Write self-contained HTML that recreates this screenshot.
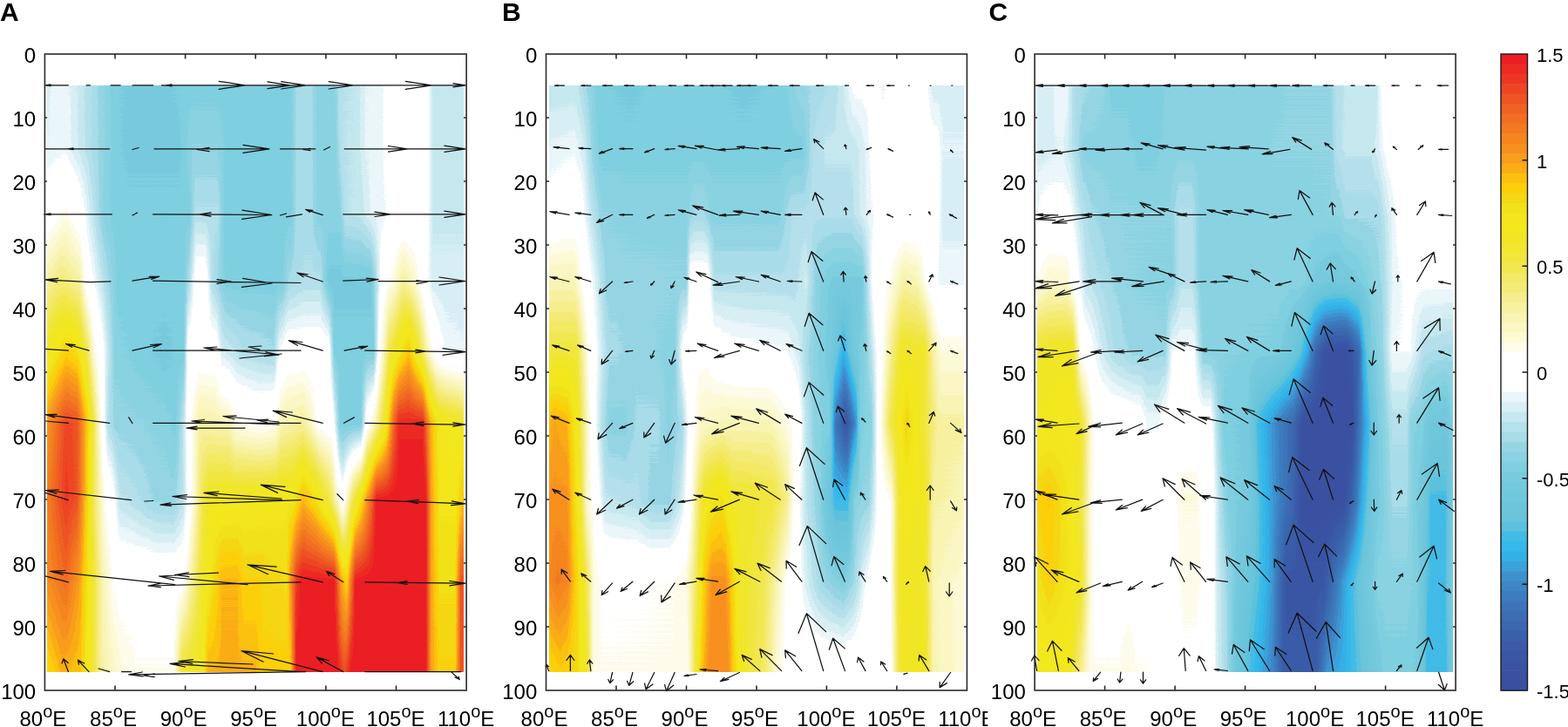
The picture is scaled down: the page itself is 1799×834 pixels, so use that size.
<!DOCTYPE html><html><head><meta charset="utf-8"><style>html,body{margin:0;padding:0;background:#fff;overflow:hidden;}svg{display:block;}text{font-family:"Liberation Sans",Arial,sans-serif;fill:#000;}</style></head><body>
<svg width="1799" height="834" viewBox="0 0 1799 834">
<defs>
<filter id="cm" filterUnits="userSpaceOnUse" x="0" y="0" width="1799" height="834" color-interpolation-filters="sRGB">
<feComponentTransfer><feFuncR type="discrete" tableValues="0.224 0.224 0.227 0.227 0.231 0.231 0.235 0.235 0.239 0.239 0.243 0.243 0.235 0.200 0.204 0.259 0.361 0.412 0.424 0.439 0.451 0.467 0.498 0.541 0.588 0.659 0.710 0.776 0.847 0.918 1.000 1.000 1.000 1.000 0.996 0.992 0.984 0.976 0.969 0.965 0.957 0.953 0.949 0.949 0.949 0.949 0.953 0.953 0.949 0.961 0.992 0.992 0.984 0.976 0.969 0.961 0.953 0.949 0.941 0.937 0.933 0.929 0.929 0.925"/><feFuncG type="discrete" tableValues="0.310 0.318 0.329 0.341 0.357 0.376 0.400 0.427 0.455 0.486 0.525 0.576 0.635 0.694 0.725 0.737 0.757 0.773 0.776 0.784 0.788 0.796 0.812 0.824 0.839 0.863 0.882 0.910 0.937 0.965 1.000 1.000 1.000 1.000 0.988 0.980 0.969 0.957 0.945 0.933 0.922 0.914 0.906 0.902 0.902 0.902 0.906 0.902 0.890 0.843 0.812 0.753 0.678 0.616 0.565 0.522 0.478 0.431 0.384 0.329 0.275 0.216 0.165 0.118"/><feFuncB type="discrete" tableValues="0.627 0.631 0.639 0.647 0.655 0.667 0.682 0.702 0.722 0.745 0.776 0.812 0.855 0.902 0.918 0.902 0.863 0.855 0.859 0.863 0.863 0.867 0.878 0.886 0.894 0.910 0.922 0.941 0.961 0.980 1.000 1.000 1.000 1.000 0.918 0.839 0.773 0.702 0.627 0.549 0.463 0.392 0.314 0.243 0.184 0.141 0.118 0.102 0.094 0.071 0.039 0.059 0.086 0.110 0.118 0.122 0.129 0.133 0.137 0.141 0.141 0.141 0.141 0.141"/></feComponentTransfer></filter>
<linearGradient id="vf" x1="0" y1="0" x2="0" y2="1"><stop offset="0" stop-color="#000"/><stop offset="1" stop-color="#fff"/></linearGradient>
<mask id="mf" maskContentUnits="objectBoundingBox"><rect width="1" height="1" fill="url(#vf)"/></mask>
<linearGradient id="gA0" gradientUnits="userSpaceOnUse" x1="51.4" y1="0" x2="535.1" y2="0">
<stop offset="0.0000" stop-color="#717171"/>
<stop offset="0.0267" stop-color="#777777"/>
<stop offset="0.0600" stop-color="#747474"/>
<stop offset="0.0900" stop-color="#6d6d6d"/>
<stop offset="0.1333" stop-color="#626262"/>
<stop offset="0.1633" stop-color="#5a5a5a"/>
<stop offset="0.2000" stop-color="#565656"/>
<stop offset="0.2833" stop-color="#565656"/>
<stop offset="0.3333" stop-color="#5a5a5a"/>
<stop offset="0.5000" stop-color="#5a5a5a"/>
<stop offset="0.5833" stop-color="#5a5a5a"/>
<stop offset="0.5967" stop-color="#656565"/>
<stop offset="0.6333" stop-color="#656565"/>
<stop offset="0.6467" stop-color="#5e5e5e"/>
<stop offset="0.6867" stop-color="#5e5e5e"/>
<stop offset="0.7000" stop-color="#6b6b6b"/>
<stop offset="0.7400" stop-color="#6d6d6d"/>
<stop offset="0.7600" stop-color="#747474"/>
<stop offset="0.8000" stop-color="#777777"/>
<stop offset="0.8133" stop-color="#7c7c7c"/>
<stop offset="0.9067" stop-color="#7c7c7c"/>
<stop offset="0.9200" stop-color="#6f6f6f"/>
<stop offset="1.0000" stop-color="#6f6f6f"/>
</linearGradient>
<linearGradient id="gA1" gradientUnits="userSpaceOnUse" x1="51.4" y1="0" x2="535.1" y2="0">
<stop offset="0.0000" stop-color="#747474"/>
<stop offset="0.0500" stop-color="#777777"/>
<stop offset="0.0900" stop-color="#6d6d6d"/>
<stop offset="0.1333" stop-color="#626262"/>
<stop offset="0.1633" stop-color="#5a5a5a"/>
<stop offset="0.2000" stop-color="#565656"/>
<stop offset="0.3167" stop-color="#565656"/>
<stop offset="0.3500" stop-color="#606060"/>
<stop offset="0.4067" stop-color="#606060"/>
<stop offset="0.4333" stop-color="#5a5a5a"/>
<stop offset="0.5833" stop-color="#5a5a5a"/>
<stop offset="0.5967" stop-color="#656565"/>
<stop offset="0.6333" stop-color="#656565"/>
<stop offset="0.6467" stop-color="#5e5e5e"/>
<stop offset="0.6900" stop-color="#5e5e5e"/>
<stop offset="0.7033" stop-color="#6b6b6b"/>
<stop offset="0.7400" stop-color="#6d6d6d"/>
<stop offset="0.7600" stop-color="#747474"/>
<stop offset="0.8000" stop-color="#777777"/>
<stop offset="0.8133" stop-color="#7c7c7c"/>
<stop offset="0.9067" stop-color="#7c7c7c"/>
<stop offset="0.9200" stop-color="#6f6f6f"/>
<stop offset="1.0000" stop-color="#6f6f6f"/>
</linearGradient>
<linearGradient id="gA2" gradientUnits="userSpaceOnUse" x1="51.4" y1="0" x2="535.1" y2="0">
<stop offset="0.0000" stop-color="#7e7e7e"/>
<stop offset="0.0500" stop-color="#8a8a8a"/>
<stop offset="0.0833" stop-color="#808080"/>
<stop offset="0.1067" stop-color="#717171"/>
<stop offset="0.1400" stop-color="#5e5e5e"/>
<stop offset="0.1667" stop-color="#5a5a5a"/>
<stop offset="0.3433" stop-color="#5a5a5a"/>
<stop offset="0.3567" stop-color="#696969"/>
<stop offset="0.4100" stop-color="#696969"/>
<stop offset="0.4267" stop-color="#5a5a5a"/>
<stop offset="0.5833" stop-color="#5a5a5a"/>
<stop offset="0.5967" stop-color="#656565"/>
<stop offset="0.6333" stop-color="#656565"/>
<stop offset="0.6467" stop-color="#5e5e5e"/>
<stop offset="0.7000" stop-color="#5e5e5e"/>
<stop offset="0.7133" stop-color="#6b6b6b"/>
<stop offset="0.7500" stop-color="#6d6d6d"/>
<stop offset="0.7733" stop-color="#747474"/>
<stop offset="0.8067" stop-color="#777777"/>
<stop offset="0.8233" stop-color="#7c7c7c"/>
<stop offset="0.9067" stop-color="#7c7c7c"/>
<stop offset="0.9200" stop-color="#6f6f6f"/>
<stop offset="1.0000" stop-color="#6f6f6f"/>
</linearGradient>
<linearGradient id="gA3" gradientUnits="userSpaceOnUse" x1="51.4" y1="0" x2="535.1" y2="0">
<stop offset="0.0000" stop-color="#999999"/>
<stop offset="0.0400" stop-color="#a2a2a2"/>
<stop offset="0.0833" stop-color="#999999"/>
<stop offset="0.1000" stop-color="#808080"/>
<stop offset="0.1167" stop-color="#787878"/>
<stop offset="0.1500" stop-color="#656565"/>
<stop offset="0.1733" stop-color="#5a5a5a"/>
<stop offset="0.3300" stop-color="#5a5a5a"/>
<stop offset="0.3433" stop-color="#696969"/>
<stop offset="0.3600" stop-color="#818181"/>
<stop offset="0.3800" stop-color="#818181"/>
<stop offset="0.3967" stop-color="#696969"/>
<stop offset="0.4300" stop-color="#5a5a5a"/>
<stop offset="0.5633" stop-color="#5a5a5a"/>
<stop offset="0.5800" stop-color="#656565"/>
<stop offset="0.6167" stop-color="#696969"/>
<stop offset="0.6533" stop-color="#696969"/>
<stop offset="0.6733" stop-color="#565656"/>
<stop offset="0.7733" stop-color="#565656"/>
<stop offset="0.7867" stop-color="#696969"/>
<stop offset="0.8000" stop-color="#808080"/>
<stop offset="0.8267" stop-color="#8c8c8c"/>
<stop offset="0.8500" stop-color="#9b9b9b"/>
<stop offset="0.8767" stop-color="#909090"/>
<stop offset="0.9000" stop-color="#7e7e7e"/>
<stop offset="0.9200" stop-color="#717171"/>
<stop offset="1.0000" stop-color="#717171"/>
</linearGradient>
<linearGradient id="gA4" gradientUnits="userSpaceOnUse" x1="51.4" y1="0" x2="535.1" y2="0">
<stop offset="0.0000" stop-color="#b3b3b3"/>
<stop offset="0.0500" stop-color="#c8c8c8"/>
<stop offset="0.0767" stop-color="#c3c3c3"/>
<stop offset="0.1000" stop-color="#aaaaaa"/>
<stop offset="0.1167" stop-color="#8c8c8c"/>
<stop offset="0.1333" stop-color="#808080"/>
<stop offset="0.1467" stop-color="#717171"/>
<stop offset="0.1667" stop-color="#5e5e5e"/>
<stop offset="0.2167" stop-color="#5a5a5a"/>
<stop offset="0.2833" stop-color="#565656"/>
<stop offset="0.3300" stop-color="#5a5a5a"/>
<stop offset="0.3400" stop-color="#808080"/>
<stop offset="0.4067" stop-color="#808080"/>
<stop offset="0.4200" stop-color="#717171"/>
<stop offset="0.4667" stop-color="#696969"/>
<stop offset="0.5433" stop-color="#656565"/>
<stop offset="0.5567" stop-color="#787878"/>
<stop offset="0.5733" stop-color="#808080"/>
<stop offset="0.6733" stop-color="#808080"/>
<stop offset="0.6867" stop-color="#5a5a5a"/>
<stop offset="0.7800" stop-color="#5a5a5a"/>
<stop offset="0.7933" stop-color="#808080"/>
<stop offset="0.8167" stop-color="#aaaaaa"/>
<stop offset="0.8433" stop-color="#bfbfbf"/>
<stop offset="0.8633" stop-color="#cccccc"/>
<stop offset="0.8867" stop-color="#b3b3b3"/>
<stop offset="0.9067" stop-color="#959595"/>
<stop offset="0.9267" stop-color="#808080"/>
<stop offset="0.9500" stop-color="#777777"/>
<stop offset="1.0000" stop-color="#747474"/>
</linearGradient>
<linearGradient id="gA5" gradientUnits="userSpaceOnUse" x1="51.4" y1="0" x2="535.1" y2="0">
<stop offset="0.0000" stop-color="#d4d4d4"/>
<stop offset="0.0500" stop-color="#f2f2f2"/>
<stop offset="0.0767" stop-color="#eeeeee"/>
<stop offset="0.1000" stop-color="#cccccc"/>
<stop offset="0.1167" stop-color="#aaaaaa"/>
<stop offset="0.1333" stop-color="#888888"/>
<stop offset="0.1500" stop-color="#696969"/>
<stop offset="0.1667" stop-color="#626262"/>
<stop offset="0.2833" stop-color="#5e5e5e"/>
<stop offset="0.3100" stop-color="#5a5a5a"/>
<stop offset="0.3267" stop-color="#696969"/>
<stop offset="0.3400" stop-color="#808080"/>
<stop offset="0.3667" stop-color="#999999"/>
<stop offset="0.4367" stop-color="#959595"/>
<stop offset="0.4533" stop-color="#8a8a8a"/>
<stop offset="0.5067" stop-color="#858585"/>
<stop offset="0.5467" stop-color="#888888"/>
<stop offset="0.5600" stop-color="#959595"/>
<stop offset="0.6133" stop-color="#9b9b9b"/>
<stop offset="0.6333" stop-color="#909090"/>
<stop offset="0.6500" stop-color="#848484"/>
<stop offset="0.6833" stop-color="#808080"/>
<stop offset="0.7000" stop-color="#5a5a5a"/>
<stop offset="0.7500" stop-color="#5a5a5a"/>
<stop offset="0.7633" stop-color="#808080"/>
<stop offset="0.7867" stop-color="#999999"/>
<stop offset="0.8100" stop-color="#bbbbbb"/>
<stop offset="0.8267" stop-color="#e6e6e6"/>
<stop offset="0.8400" stop-color="#fbfbfb"/>
<stop offset="0.8967" stop-color="#fbfbfb"/>
<stop offset="0.9133" stop-color="#d4d4d4"/>
<stop offset="0.9333" stop-color="#bfbfbf"/>
<stop offset="1.0000" stop-color="#b3b3b3"/>
</linearGradient>
<linearGradient id="gA6" gradientUnits="userSpaceOnUse" x1="51.4" y1="0" x2="535.1" y2="0">
<stop offset="0.0000" stop-color="#dddddd"/>
<stop offset="0.0500" stop-color="#f5f5f5"/>
<stop offset="0.0767" stop-color="#eeeeee"/>
<stop offset="0.1000" stop-color="#c8c8c8"/>
<stop offset="0.1200" stop-color="#a2a2a2"/>
<stop offset="0.1433" stop-color="#888888"/>
<stop offset="0.1600" stop-color="#808080"/>
<stop offset="0.1767" stop-color="#6d6d6d"/>
<stop offset="0.2167" stop-color="#696969"/>
<stop offset="0.2600" stop-color="#636363"/>
<stop offset="0.3067" stop-color="#626262"/>
<stop offset="0.3300" stop-color="#6d6d6d"/>
<stop offset="0.3433" stop-color="#808080"/>
<stop offset="0.3733" stop-color="#aaaaaa"/>
<stop offset="0.3900" stop-color="#b7b7b7"/>
<stop offset="0.5900" stop-color="#bfbfbf"/>
<stop offset="0.6133" stop-color="#d0d0d0"/>
<stop offset="0.6433" stop-color="#c3c3c3"/>
<stop offset="0.6767" stop-color="#aaaaaa"/>
<stop offset="0.7067" stop-color="#808080"/>
<stop offset="0.7300" stop-color="#aaaaaa"/>
<stop offset="0.7533" stop-color="#c8c8c8"/>
<stop offset="0.7733" stop-color="#e6e6e6"/>
<stop offset="0.7867" stop-color="#ffffff"/>
<stop offset="0.9033" stop-color="#ffffff"/>
<stop offset="0.9167" stop-color="#d4d4d4"/>
<stop offset="0.9367" stop-color="#bfbfbf"/>
<stop offset="0.9767" stop-color="#bfbfbf"/>
<stop offset="1.0000" stop-color="#d4d4d4"/>
</linearGradient>
<linearGradient id="gA7" gradientUnits="userSpaceOnUse" x1="51.4" y1="0" x2="535.1" y2="0">
<stop offset="0.0000" stop-color="#d9d9d9"/>
<stop offset="0.0500" stop-color="#e6e6e6"/>
<stop offset="0.0833" stop-color="#d4d4d4"/>
<stop offset="0.1067" stop-color="#bbbbbb"/>
<stop offset="0.1333" stop-color="#999999"/>
<stop offset="0.1600" stop-color="#888888"/>
<stop offset="0.1767" stop-color="#848484"/>
<stop offset="0.3267" stop-color="#848484"/>
<stop offset="0.3467" stop-color="#999999"/>
<stop offset="0.3733" stop-color="#b3b3b3"/>
<stop offset="0.4067" stop-color="#c8c8c8"/>
<stop offset="0.4200" stop-color="#d0d0d0"/>
<stop offset="0.4567" stop-color="#d0d0d0"/>
<stop offset="0.4733" stop-color="#c8c8c8"/>
<stop offset="0.5067" stop-color="#c8c8c8"/>
<stop offset="0.5733" stop-color="#c3c3c3"/>
<stop offset="0.5967" stop-color="#f6f6f6"/>
<stop offset="0.6100" stop-color="#ffffff"/>
<stop offset="0.6867" stop-color="#ffffff"/>
<stop offset="0.7033" stop-color="#d4d4d4"/>
<stop offset="0.7167" stop-color="#c8c8c8"/>
<stop offset="0.7367" stop-color="#ffffff"/>
<stop offset="0.9033" stop-color="#ffffff"/>
<stop offset="0.9167" stop-color="#d4d4d4"/>
<stop offset="0.9367" stop-color="#c3c3c3"/>
<stop offset="0.9733" stop-color="#c3c3c3"/>
<stop offset="0.9867" stop-color="#eeeeee"/>
<stop offset="1.0000" stop-color="#eeeeee"/>
</linearGradient>
<linearGradient id="gA8" gradientUnits="userSpaceOnUse" x1="51.4" y1="0" x2="535.1" y2="0">
<stop offset="0.0000" stop-color="#c3c3c3"/>
<stop offset="0.0400" stop-color="#d0d0d0"/>
<stop offset="0.0833" stop-color="#cccccc"/>
<stop offset="0.1100" stop-color="#b3b3b3"/>
<stop offset="0.1333" stop-color="#999999"/>
<stop offset="0.1833" stop-color="#8c8c8c"/>
<stop offset="0.2167" stop-color="#888888"/>
<stop offset="0.3067" stop-color="#888888"/>
<stop offset="0.3267" stop-color="#b3b3b3"/>
<stop offset="0.3733" stop-color="#b7b7b7"/>
<stop offset="0.3867" stop-color="#d0d0d0"/>
<stop offset="0.5000" stop-color="#d0d0d0"/>
<stop offset="0.5167" stop-color="#c8c8c8"/>
<stop offset="0.5833" stop-color="#cacaca"/>
<stop offset="0.5967" stop-color="#ffffff"/>
<stop offset="0.6933" stop-color="#ffffff"/>
<stop offset="0.7100" stop-color="#eeeeee"/>
<stop offset="0.7267" stop-color="#ffffff"/>
<stop offset="0.9033" stop-color="#ffffff"/>
<stop offset="0.9167" stop-color="#d4d4d4"/>
<stop offset="0.9367" stop-color="#c8c8c8"/>
<stop offset="0.9733" stop-color="#c8c8c8"/>
<stop offset="0.9867" stop-color="#eeeeee"/>
<stop offset="1.0000" stop-color="#eeeeee"/>
</linearGradient>
<linearGradient id="gB0" gradientUnits="userSpaceOnUse" x1="626.5" y1="0" x2="1109.4" y2="0">
<stop offset="0.0000" stop-color="#6d6d6d"/>
<stop offset="0.0733" stop-color="#6d6d6d"/>
<stop offset="0.1000" stop-color="#626262"/>
<stop offset="0.1200" stop-color="#5a5a5a"/>
<stop offset="0.2000" stop-color="#565656"/>
<stop offset="0.2667" stop-color="#5a5a5a"/>
<stop offset="0.4000" stop-color="#5a5a5a"/>
<stop offset="0.4667" stop-color="#565656"/>
<stop offset="0.5667" stop-color="#5a5a5a"/>
<stop offset="0.6000" stop-color="#626262"/>
<stop offset="0.6833" stop-color="#696969"/>
<stop offset="0.7100" stop-color="#717171"/>
<stop offset="0.7300" stop-color="#7a7a7a"/>
<stop offset="0.7833" stop-color="#7a7a7a"/>
<stop offset="0.8000" stop-color="#777777"/>
<stop offset="0.8333" stop-color="#7c7c7c"/>
<stop offset="0.9000" stop-color="#7c7c7c"/>
<stop offset="0.9200" stop-color="#717171"/>
<stop offset="1.0000" stop-color="#717171"/>
</linearGradient>
<linearGradient id="gB1" gradientUnits="userSpaceOnUse" x1="626.5" y1="0" x2="1109.4" y2="0">
<stop offset="0.0000" stop-color="#747474"/>
<stop offset="0.0667" stop-color="#777777"/>
<stop offset="0.0900" stop-color="#717171"/>
<stop offset="0.1100" stop-color="#626262"/>
<stop offset="0.1267" stop-color="#5a5a5a"/>
<stop offset="0.6100" stop-color="#5a5a5a"/>
<stop offset="0.6333" stop-color="#686868"/>
<stop offset="0.6667" stop-color="#6d6d6d"/>
<stop offset="0.7333" stop-color="#6d6d6d"/>
<stop offset="0.7600" stop-color="#747474"/>
<stop offset="0.7767" stop-color="#7c7c7c"/>
<stop offset="0.9300" stop-color="#7c7c7c"/>
<stop offset="0.9433" stop-color="#747474"/>
<stop offset="1.0000" stop-color="#747474"/>
</linearGradient>
<linearGradient id="gB2" gradientUnits="userSpaceOnUse" x1="626.5" y1="0" x2="1109.4" y2="0">
<stop offset="0.0000" stop-color="#7c7c7c"/>
<stop offset="0.0433" stop-color="#808080"/>
<stop offset="0.0800" stop-color="#808080"/>
<stop offset="0.1067" stop-color="#6d6d6d"/>
<stop offset="0.1333" stop-color="#606060"/>
<stop offset="0.2000" stop-color="#5e5e5e"/>
<stop offset="0.3333" stop-color="#5e5e5e"/>
<stop offset="0.3533" stop-color="#656565"/>
<stop offset="0.3733" stop-color="#656565"/>
<stop offset="0.3933" stop-color="#5e5e5e"/>
<stop offset="0.5533" stop-color="#5e5e5e"/>
<stop offset="0.5833" stop-color="#686868"/>
<stop offset="0.6333" stop-color="#696969"/>
<stop offset="0.7233" stop-color="#696969"/>
<stop offset="0.7500" stop-color="#717171"/>
<stop offset="0.7967" stop-color="#7c7c7c"/>
<stop offset="0.9300" stop-color="#7c7c7c"/>
<stop offset="0.9433" stop-color="#717171"/>
<stop offset="1.0000" stop-color="#717171"/>
</linearGradient>
<linearGradient id="gB3" gradientUnits="userSpaceOnUse" x1="626.5" y1="0" x2="1109.4" y2="0">
<stop offset="0.0000" stop-color="#959595"/>
<stop offset="0.0667" stop-color="#959595"/>
<stop offset="0.0900" stop-color="#848484"/>
<stop offset="0.1167" stop-color="#747474"/>
<stop offset="0.1433" stop-color="#626262"/>
<stop offset="0.3333" stop-color="#606060"/>
<stop offset="0.3433" stop-color="#808080"/>
<stop offset="0.3833" stop-color="#808080"/>
<stop offset="0.4000" stop-color="#696969"/>
<stop offset="0.5900" stop-color="#696969"/>
<stop offset="0.6167" stop-color="#717171"/>
<stop offset="0.6433" stop-color="#5e5e5e"/>
<stop offset="0.6833" stop-color="#565656"/>
<stop offset="0.7500" stop-color="#565656"/>
<stop offset="0.7633" stop-color="#696969"/>
<stop offset="0.7800" stop-color="#808080"/>
<stop offset="0.8167" stop-color="#888888"/>
<stop offset="0.8500" stop-color="#999999"/>
<stop offset="0.8833" stop-color="#959595"/>
<stop offset="0.9067" stop-color="#848484"/>
<stop offset="0.9333" stop-color="#777777"/>
<stop offset="1.0000" stop-color="#777777"/>
</linearGradient>
<linearGradient id="gB4" gradientUnits="userSpaceOnUse" x1="626.5" y1="0" x2="1109.4" y2="0">
<stop offset="0.0000" stop-color="#aeaeae"/>
<stop offset="0.0733" stop-color="#aeaeae"/>
<stop offset="0.1000" stop-color="#888888"/>
<stop offset="0.1267" stop-color="#747474"/>
<stop offset="0.1500" stop-color="#656565"/>
<stop offset="0.1667" stop-color="#656565"/>
<stop offset="0.2000" stop-color="#626262"/>
<stop offset="0.3067" stop-color="#5e5e5e"/>
<stop offset="0.3267" stop-color="#808080"/>
<stop offset="0.3533" stop-color="#858585"/>
<stop offset="0.3833" stop-color="#858585"/>
<stop offset="0.4000" stop-color="#808080"/>
<stop offset="0.4400" stop-color="#7c7c7c"/>
<stop offset="0.5733" stop-color="#787878"/>
<stop offset="0.6000" stop-color="#717171"/>
<stop offset="0.6200" stop-color="#656565"/>
<stop offset="0.6400" stop-color="#5e5e5e"/>
<stop offset="0.6800" stop-color="#535353"/>
<stop offset="0.7067" stop-color="#373737"/>
<stop offset="0.7333" stop-color="#535353"/>
<stop offset="0.7600" stop-color="#5e5e5e"/>
<stop offset="0.7933" stop-color="#808080"/>
<stop offset="0.8200" stop-color="#9d9d9d"/>
<stop offset="0.8433" stop-color="#b4b4b4"/>
<stop offset="0.9000" stop-color="#b3b3b3"/>
<stop offset="0.9200" stop-color="#999999"/>
<stop offset="0.9400" stop-color="#8c8c8c"/>
<stop offset="1.0000" stop-color="#8c8c8c"/>
</linearGradient>
<linearGradient id="gB5" gradientUnits="userSpaceOnUse" x1="626.5" y1="0" x2="1109.4" y2="0">
<stop offset="0.0000" stop-color="#cccccc"/>
<stop offset="0.0200" stop-color="#d4d4d4"/>
<stop offset="0.0500" stop-color="#d0d0d0"/>
<stop offset="0.0733" stop-color="#bbbbbb"/>
<stop offset="0.0933" stop-color="#999999"/>
<stop offset="0.1100" stop-color="#808080"/>
<stop offset="0.1333" stop-color="#696969"/>
<stop offset="0.1500" stop-color="#5e5e5e"/>
<stop offset="0.1867" stop-color="#5e5e5e"/>
<stop offset="0.2167" stop-color="#656565"/>
<stop offset="0.2667" stop-color="#656565"/>
<stop offset="0.2900" stop-color="#5e5e5e"/>
<stop offset="0.3233" stop-color="#656565"/>
<stop offset="0.3433" stop-color="#808080"/>
<stop offset="0.3667" stop-color="#909090"/>
<stop offset="0.4167" stop-color="#959595"/>
<stop offset="0.5333" stop-color="#959595"/>
<stop offset="0.5833" stop-color="#888888"/>
<stop offset="0.6000" stop-color="#808080"/>
<stop offset="0.6167" stop-color="#6d6d6d"/>
<stop offset="0.6400" stop-color="#5e5e5e"/>
<stop offset="0.6733" stop-color="#5a5a5a"/>
<stop offset="0.6867" stop-color="#252525"/>
<stop offset="0.7133" stop-color="#0e0e0e"/>
<stop offset="0.7367" stop-color="#2e2e2e"/>
<stop offset="0.7467" stop-color="#5a5a5a"/>
<stop offset="0.7733" stop-color="#5e5e5e"/>
<stop offset="0.7900" stop-color="#808080"/>
<stop offset="0.8167" stop-color="#aaaaaa"/>
<stop offset="0.8400" stop-color="#bbbbbb"/>
<stop offset="0.8567" stop-color="#c8c8c8"/>
<stop offset="0.8833" stop-color="#b7b7b7"/>
<stop offset="0.9067" stop-color="#aaaaaa"/>
<stop offset="0.9333" stop-color="#999999"/>
<stop offset="1.0000" stop-color="#999999"/>
</linearGradient>
<linearGradient id="gB6" gradientUnits="userSpaceOnUse" x1="626.5" y1="0" x2="1109.4" y2="0">
<stop offset="0.0000" stop-color="#d9d9d9"/>
<stop offset="0.0500" stop-color="#d9d9d9"/>
<stop offset="0.0767" stop-color="#bbbbbb"/>
<stop offset="0.0967" stop-color="#909090"/>
<stop offset="0.1200" stop-color="#808080"/>
<stop offset="0.1400" stop-color="#6d6d6d"/>
<stop offset="0.2167" stop-color="#696969"/>
<stop offset="0.2500" stop-color="#626262"/>
<stop offset="0.2933" stop-color="#626262"/>
<stop offset="0.3167" stop-color="#6d6d6d"/>
<stop offset="0.3400" stop-color="#808080"/>
<stop offset="0.3600" stop-color="#a2a2a2"/>
<stop offset="0.3800" stop-color="#bbbbbb"/>
<stop offset="0.4167" stop-color="#c3c3c3"/>
<stop offset="0.4433" stop-color="#b3b3b3"/>
<stop offset="0.4667" stop-color="#b3b3b3"/>
<stop offset="0.5400" stop-color="#aeaeae"/>
<stop offset="0.5733" stop-color="#9d9d9d"/>
<stop offset="0.5933" stop-color="#808080"/>
<stop offset="0.6167" stop-color="#6d6d6d"/>
<stop offset="0.6500" stop-color="#5e5e5e"/>
<stop offset="0.6867" stop-color="#3c3c3c"/>
<stop offset="0.7167" stop-color="#3c3c3c"/>
<stop offset="0.7333" stop-color="#5e5e5e"/>
<stop offset="0.7667" stop-color="#626262"/>
<stop offset="0.7933" stop-color="#808080"/>
<stop offset="0.8200" stop-color="#888888"/>
<stop offset="0.8367" stop-color="#aeaeae"/>
<stop offset="0.8500" stop-color="#b9b9b9"/>
<stop offset="0.9000" stop-color="#b7b7b7"/>
<stop offset="0.9200" stop-color="#999999"/>
<stop offset="1.0000" stop-color="#959595"/>
</linearGradient>
<linearGradient id="gB7" gradientUnits="userSpaceOnUse" x1="626.5" y1="0" x2="1109.4" y2="0">
<stop offset="0.0000" stop-color="#d9d9d9"/>
<stop offset="0.0267" stop-color="#e1e1e1"/>
<stop offset="0.0500" stop-color="#dddddd"/>
<stop offset="0.0767" stop-color="#c3c3c3"/>
<stop offset="0.0967" stop-color="#aaaaaa"/>
<stop offset="0.1133" stop-color="#8c8c8c"/>
<stop offset="0.1367" stop-color="#868686"/>
<stop offset="0.3000" stop-color="#888888"/>
<stop offset="0.3333" stop-color="#8c8c8c"/>
<stop offset="0.3600" stop-color="#aaaaaa"/>
<stop offset="0.3733" stop-color="#c8c8c8"/>
<stop offset="0.3933" stop-color="#d9d9d9"/>
<stop offset="0.4267" stop-color="#d9d9d9"/>
<stop offset="0.4433" stop-color="#c8c8c8"/>
<stop offset="0.4600" stop-color="#b3b3b3"/>
<stop offset="0.5167" stop-color="#aaaaaa"/>
<stop offset="0.5500" stop-color="#959595"/>
<stop offset="0.5733" stop-color="#848484"/>
<stop offset="0.5933" stop-color="#808080"/>
<stop offset="0.6133" stop-color="#747474"/>
<stop offset="0.6500" stop-color="#656565"/>
<stop offset="0.6833" stop-color="#5e5e5e"/>
<stop offset="0.7067" stop-color="#5a5a5a"/>
<stop offset="0.7333" stop-color="#656565"/>
<stop offset="0.7533" stop-color="#747474"/>
<stop offset="0.7733" stop-color="#808080"/>
<stop offset="0.8167" stop-color="#848484"/>
<stop offset="0.8367" stop-color="#aeaeae"/>
<stop offset="0.8500" stop-color="#b7b7b7"/>
<stop offset="0.9000" stop-color="#b3b3b3"/>
<stop offset="0.9200" stop-color="#959595"/>
<stop offset="1.0000" stop-color="#8c8c8c"/>
</linearGradient>
<linearGradient id="gB8" gradientUnits="userSpaceOnUse" x1="626.5" y1="0" x2="1109.4" y2="0">
<stop offset="0.0000" stop-color="#c3c3c3"/>
<stop offset="0.0333" stop-color="#cacaca"/>
<stop offset="0.0767" stop-color="#c3c3c3"/>
<stop offset="0.1000" stop-color="#aeaeae"/>
<stop offset="0.1133" stop-color="#888888"/>
<stop offset="0.3367" stop-color="#888888"/>
<stop offset="0.3533" stop-color="#aaaaaa"/>
<stop offset="0.3700" stop-color="#cccccc"/>
<stop offset="0.3867" stop-color="#d9d9d9"/>
<stop offset="0.4333" stop-color="#d9d9d9"/>
<stop offset="0.4500" stop-color="#c3c3c3"/>
<stop offset="0.4667" stop-color="#b3b3b3"/>
<stop offset="0.5167" stop-color="#a6a6a6"/>
<stop offset="0.5500" stop-color="#8c8c8c"/>
<stop offset="0.5733" stop-color="#848484"/>
<stop offset="0.8200" stop-color="#868686"/>
<stop offset="0.8367" stop-color="#aaaaaa"/>
<stop offset="0.8533" stop-color="#b7b7b7"/>
<stop offset="0.9000" stop-color="#b7b7b7"/>
<stop offset="0.9200" stop-color="#959595"/>
<stop offset="1.0000" stop-color="#8c8c8c"/>
</linearGradient>
<linearGradient id="gC0" gradientUnits="userSpaceOnUse" x1="1187.1" y1="0" x2="1670.1" y2="0">
<stop offset="0.0000" stop-color="#717171"/>
<stop offset="0.0400" stop-color="#717171"/>
<stop offset="0.0500" stop-color="#777777"/>
<stop offset="0.0767" stop-color="#777777"/>
<stop offset="0.0933" stop-color="#686868"/>
<stop offset="0.1667" stop-color="#606060"/>
<stop offset="0.1833" stop-color="#5a5a5a"/>
<stop offset="0.3000" stop-color="#5a5a5a"/>
<stop offset="0.3167" stop-color="#5e5e5e"/>
<stop offset="0.5667" stop-color="#5e5e5e"/>
<stop offset="0.6000" stop-color="#606060"/>
<stop offset="0.7000" stop-color="#606060"/>
<stop offset="0.7167" stop-color="#696969"/>
<stop offset="0.7400" stop-color="#6d6d6d"/>
<stop offset="0.8100" stop-color="#6d6d6d"/>
<stop offset="0.8267" stop-color="#7c7c7c"/>
<stop offset="1.0000" stop-color="#7c7c7c"/>
</linearGradient>
<linearGradient id="gC1" gradientUnits="userSpaceOnUse" x1="1187.1" y1="0" x2="1670.1" y2="0">
<stop offset="0.0000" stop-color="#717171"/>
<stop offset="0.0667" stop-color="#747474"/>
<stop offset="0.0933" stop-color="#696969"/>
<stop offset="0.1167" stop-color="#5e5e5e"/>
<stop offset="0.2167" stop-color="#5e5e5e"/>
<stop offset="0.2500" stop-color="#5a5a5a"/>
<stop offset="0.2833" stop-color="#5a5a5a"/>
<stop offset="0.3167" stop-color="#5e5e5e"/>
<stop offset="0.5500" stop-color="#5e5e5e"/>
<stop offset="0.5667" stop-color="#606060"/>
<stop offset="0.7033" stop-color="#606060"/>
<stop offset="0.7167" stop-color="#696969"/>
<stop offset="0.7400" stop-color="#6d6d6d"/>
<stop offset="0.8000" stop-color="#6d6d6d"/>
<stop offset="0.8200" stop-color="#747474"/>
<stop offset="0.8400" stop-color="#7c7c7c"/>
<stop offset="1.0000" stop-color="#7c7c7c"/>
</linearGradient>
<linearGradient id="gC2" gradientUnits="userSpaceOnUse" x1="1187.1" y1="0" x2="1670.1" y2="0">
<stop offset="0.0000" stop-color="#777777"/>
<stop offset="0.0267" stop-color="#7c7c7c"/>
<stop offset="0.0833" stop-color="#7c7c7c"/>
<stop offset="0.1067" stop-color="#6d6d6d"/>
<stop offset="0.1333" stop-color="#656565"/>
<stop offset="0.1833" stop-color="#606060"/>
<stop offset="0.3233" stop-color="#606060"/>
<stop offset="0.3433" stop-color="#696969"/>
<stop offset="0.3733" stop-color="#696969"/>
<stop offset="0.3933" stop-color="#5e5e5e"/>
<stop offset="0.6467" stop-color="#5e5e5e"/>
<stop offset="0.7233" stop-color="#606060"/>
<stop offset="0.7400" stop-color="#656565"/>
<stop offset="0.8167" stop-color="#656565"/>
<stop offset="0.8467" stop-color="#747474"/>
<stop offset="0.8667" stop-color="#7c7c7c"/>
<stop offset="1.0000" stop-color="#7c7c7c"/>
</linearGradient>
<linearGradient id="gC3" gradientUnits="userSpaceOnUse" x1="1187.1" y1="0" x2="1670.1" y2="0">
<stop offset="0.0000" stop-color="#888888"/>
<stop offset="0.0333" stop-color="#909090"/>
<stop offset="0.0767" stop-color="#8f8f8f"/>
<stop offset="0.0967" stop-color="#808080"/>
<stop offset="0.1200" stop-color="#6d6d6d"/>
<stop offset="0.1733" stop-color="#656565"/>
<stop offset="0.2167" stop-color="#606060"/>
<stop offset="0.3267" stop-color="#5e5e5e"/>
<stop offset="0.3467" stop-color="#6b6b6b"/>
<stop offset="0.3733" stop-color="#6b6b6b"/>
<stop offset="0.3933" stop-color="#5e5e5e"/>
<stop offset="0.6333" stop-color="#5e5e5e"/>
<stop offset="0.6667" stop-color="#565656"/>
<stop offset="0.7167" stop-color="#515151"/>
<stop offset="0.7667" stop-color="#565656"/>
<stop offset="0.8000" stop-color="#5e5e5e"/>
<stop offset="0.8267" stop-color="#656565"/>
<stop offset="0.8500" stop-color="#747474"/>
<stop offset="0.8833" stop-color="#7a7a7a"/>
<stop offset="1.0000" stop-color="#7a7a7a"/>
</linearGradient>
<linearGradient id="gC4" gradientUnits="userSpaceOnUse" x1="1187.1" y1="0" x2="1670.1" y2="0">
<stop offset="0.0000" stop-color="#b3b3b3"/>
<stop offset="0.0900" stop-color="#b7b7b7"/>
<stop offset="0.1100" stop-color="#848484"/>
<stop offset="0.1333" stop-color="#7c7c7c"/>
<stop offset="0.1567" stop-color="#717171"/>
<stop offset="0.1833" stop-color="#696969"/>
<stop offset="0.2333" stop-color="#626262"/>
<stop offset="0.3100" stop-color="#626262"/>
<stop offset="0.3267" stop-color="#787878"/>
<stop offset="0.3800" stop-color="#787878"/>
<stop offset="0.4000" stop-color="#5e5e5e"/>
<stop offset="0.5767" stop-color="#5a5a5a"/>
<stop offset="0.6000" stop-color="#535353"/>
<stop offset="0.6300" stop-color="#454545"/>
<stop offset="0.6500" stop-color="#323232"/>
<stop offset="0.6667" stop-color="#1c1c1c"/>
<stop offset="0.6900" stop-color="#090909"/>
<stop offset="0.7400" stop-color="#050505"/>
<stop offset="0.7700" stop-color="#1c1c1c"/>
<stop offset="0.7833" stop-color="#3c3c3c"/>
<stop offset="0.8000" stop-color="#565656"/>
<stop offset="0.8267" stop-color="#626262"/>
<stop offset="0.8500" stop-color="#787878"/>
<stop offset="0.8933" stop-color="#787878"/>
<stop offset="0.9233" stop-color="#696969"/>
<stop offset="1.0000" stop-color="#656565"/>
</linearGradient>
<linearGradient id="gC5" gradientUnits="userSpaceOnUse" x1="1187.1" y1="0" x2="1670.1" y2="0">
<stop offset="0.0000" stop-color="#b7b7b7"/>
<stop offset="0.0667" stop-color="#bbbbbb"/>
<stop offset="0.1067" stop-color="#b7b7b7"/>
<stop offset="0.1333" stop-color="#909090"/>
<stop offset="0.1467" stop-color="#848484"/>
<stop offset="0.2500" stop-color="#808080"/>
<stop offset="0.2667" stop-color="#777777"/>
<stop offset="0.2933" stop-color="#777777"/>
<stop offset="0.3100" stop-color="#808080"/>
<stop offset="0.4167" stop-color="#808080"/>
<stop offset="0.4333" stop-color="#696969"/>
<stop offset="0.4500" stop-color="#5a5a5a"/>
<stop offset="0.5067" stop-color="#565656"/>
<stop offset="0.5267" stop-color="#404040"/>
<stop offset="0.5767" stop-color="#292929"/>
<stop offset="0.6167" stop-color="#1a1a1a"/>
<stop offset="0.6400" stop-color="#050505"/>
<stop offset="0.7533" stop-color="#050505"/>
<stop offset="0.7733" stop-color="#252525"/>
<stop offset="0.7933" stop-color="#3c3c3c"/>
<stop offset="0.8133" stop-color="#565656"/>
<stop offset="0.8500" stop-color="#696969"/>
<stop offset="0.8833" stop-color="#696969"/>
<stop offset="0.8933" stop-color="#5e5e5e"/>
<stop offset="0.9200" stop-color="#5a5a5a"/>
<stop offset="0.9400" stop-color="#515151"/>
<stop offset="0.9767" stop-color="#4e4e4e"/>
<stop offset="0.9933" stop-color="#5a5a5a"/>
<stop offset="1.0000" stop-color="#5a5a5a"/>
</linearGradient>
<linearGradient id="gC6" gradientUnits="userSpaceOnUse" x1="1187.1" y1="0" x2="1670.1" y2="0">
<stop offset="0.0000" stop-color="#c8c8c8"/>
<stop offset="0.0333" stop-color="#cccccc"/>
<stop offset="0.0800" stop-color="#bfbfbf"/>
<stop offset="0.1100" stop-color="#aeaeae"/>
<stop offset="0.1333" stop-color="#8c8c8c"/>
<stop offset="0.1467" stop-color="#848484"/>
<stop offset="0.3267" stop-color="#848484"/>
<stop offset="0.3500" stop-color="#8c8c8c"/>
<stop offset="0.3833" stop-color="#8c8c8c"/>
<stop offset="0.4000" stop-color="#848484"/>
<stop offset="0.4167" stop-color="#848484"/>
<stop offset="0.4400" stop-color="#696969"/>
<stop offset="0.4600" stop-color="#5a5a5a"/>
<stop offset="0.5067" stop-color="#565656"/>
<stop offset="0.5333" stop-color="#404040"/>
<stop offset="0.5833" stop-color="#272727"/>
<stop offset="0.6133" stop-color="#1a1a1a"/>
<stop offset="0.6367" stop-color="#050505"/>
<stop offset="0.7333" stop-color="#050505"/>
<stop offset="0.7600" stop-color="#202020"/>
<stop offset="0.7833" stop-color="#3c3c3c"/>
<stop offset="0.8067" stop-color="#535353"/>
<stop offset="0.8267" stop-color="#5a5a5a"/>
<stop offset="0.8500" stop-color="#656565"/>
<stop offset="0.8833" stop-color="#656565"/>
<stop offset="0.9000" stop-color="#5a5a5a"/>
<stop offset="0.9233" stop-color="#535353"/>
<stop offset="0.9400" stop-color="#3e3e3e"/>
<stop offset="0.9767" stop-color="#3e3e3e"/>
<stop offset="0.9933" stop-color="#565656"/>
<stop offset="1.0000" stop-color="#5a5a5a"/>
</linearGradient>
<linearGradient id="gC7" gradientUnits="userSpaceOnUse" x1="1187.1" y1="0" x2="1670.1" y2="0">
<stop offset="0.0000" stop-color="#bfbfbf"/>
<stop offset="0.0333" stop-color="#c8c8c8"/>
<stop offset="0.0800" stop-color="#bfbfbf"/>
<stop offset="0.1100" stop-color="#b3b3b3"/>
<stop offset="0.1333" stop-color="#8c8c8c"/>
<stop offset="0.1467" stop-color="#848484"/>
<stop offset="0.3333" stop-color="#848484"/>
<stop offset="0.3533" stop-color="#8a8a8a"/>
<stop offset="0.3833" stop-color="#8a8a8a"/>
<stop offset="0.4100" stop-color="#848484"/>
<stop offset="0.4167" stop-color="#848484"/>
<stop offset="0.4333" stop-color="#717171"/>
<stop offset="0.4600" stop-color="#626262"/>
<stop offset="0.4833" stop-color="#535353"/>
<stop offset="0.5333" stop-color="#404040"/>
<stop offset="0.5667" stop-color="#2e2e2e"/>
<stop offset="0.5967" stop-color="#0e0e0e"/>
<stop offset="0.6867" stop-color="#0e0e0e"/>
<stop offset="0.7167" stop-color="#252525"/>
<stop offset="0.7500" stop-color="#3c3c3c"/>
<stop offset="0.7833" stop-color="#4e4e4e"/>
<stop offset="0.8167" stop-color="#5e5e5e"/>
<stop offset="0.8833" stop-color="#5e5e5e"/>
<stop offset="0.9100" stop-color="#5a5a5a"/>
<stop offset="0.9333" stop-color="#404040"/>
<stop offset="0.9733" stop-color="#3c3c3c"/>
<stop offset="0.9900" stop-color="#565656"/>
<stop offset="1.0000" stop-color="#5a5a5a"/>
</linearGradient>
<linearGradient id="gC8" gradientUnits="userSpaceOnUse" x1="1187.1" y1="0" x2="1670.1" y2="0">
<stop offset="0.0000" stop-color="#b7b7b7"/>
<stop offset="0.0833" stop-color="#b7b7b7"/>
<stop offset="0.1133" stop-color="#999999"/>
<stop offset="0.1333" stop-color="#888888"/>
<stop offset="0.2000" stop-color="#888888"/>
<stop offset="0.2233" stop-color="#8c8c8c"/>
<stop offset="0.2400" stop-color="#888888"/>
<stop offset="0.4167" stop-color="#848484"/>
<stop offset="0.4333" stop-color="#717171"/>
<stop offset="0.4567" stop-color="#656565"/>
<stop offset="0.4833" stop-color="#494949"/>
<stop offset="0.5333" stop-color="#373737"/>
<stop offset="0.5667" stop-color="#292929"/>
<stop offset="0.5933" stop-color="#121212"/>
<stop offset="0.6667" stop-color="#121212"/>
<stop offset="0.6933" stop-color="#2e2e2e"/>
<stop offset="0.7333" stop-color="#373737"/>
<stop offset="0.7667" stop-color="#404040"/>
<stop offset="0.8000" stop-color="#4e4e4e"/>
<stop offset="0.8333" stop-color="#5a5a5a"/>
<stop offset="0.8833" stop-color="#5a5a5a"/>
<stop offset="0.9100" stop-color="#565656"/>
<stop offset="0.9333" stop-color="#3c3c3c"/>
<stop offset="0.9767" stop-color="#3c3c3c"/>
<stop offset="0.9933" stop-color="#535353"/>
<stop offset="1.0000" stop-color="#565656"/>
</linearGradient>
</defs>
<path d="M51.4 135h5.5M535.1 135h-5.5M51.4 208h5.5M535.1 208h-5.5M51.4 281h5.5M535.1 281h-5.5M51.4 354h5.5M535.1 354h-5.5M51.4 427h5.5M535.1 427h-5.5M51.4 500h5.5M535.1 500h-5.5M51.4 573h5.5M535.1 573h-5.5M51.4 646h5.5M535.1 646h-5.5M51.4 719h5.5M535.1 719h-5.5M132 792v-5.5M132 62v5.5M212.6 792v-5.5M212.6 62v5.5M293.2 792v-5.5M293.2 62v5.5M373.9 792v-5.5M373.9 62v5.5M454.5 792v-5.5M454.5 62v5.5" stroke="#2a2a2a" stroke-width="1.6" fill="none"/>
<path d="M626.5 135h5.5M1109.4 135h-5.5M626.5 208h5.5M1109.4 208h-5.5M626.5 281h5.5M1109.4 281h-5.5M626.5 354h5.5M1109.4 354h-5.5M626.5 427h5.5M1109.4 427h-5.5M626.5 500h5.5M1109.4 500h-5.5M626.5 573h5.5M1109.4 573h-5.5M626.5 646h5.5M1109.4 646h-5.5M626.5 719h5.5M1109.4 719h-5.5M707 792v-5.5M707 62v5.5M787.5 792v-5.5M787.5 62v5.5M868 792v-5.5M868 62v5.5M948.4 792v-5.5M948.4 62v5.5M1028.9 792v-5.5M1028.9 62v5.5" stroke="#2a2a2a" stroke-width="1.6" fill="none"/>
<path d="M1187.1 135h5.5M1670.1 135h-5.5M1187.1 208h5.5M1670.1 208h-5.5M1187.1 281h5.5M1670.1 281h-5.5M1187.1 354h5.5M1670.1 354h-5.5M1187.1 427h5.5M1670.1 427h-5.5M1187.1 500h5.5M1670.1 500h-5.5M1187.1 573h5.5M1670.1 573h-5.5M1187.1 646h5.5M1670.1 646h-5.5M1187.1 719h5.5M1670.1 719h-5.5M1267.6 792v-5.5M1267.6 62v5.5M1348.1 792v-5.5M1348.1 62v5.5M1428.6 792v-5.5M1428.6 62v5.5M1509.1 792v-5.5M1509.1 62v5.5M1589.6 792v-5.5M1589.6 62v5.5" stroke="#2a2a2a" stroke-width="1.6" fill="none"/>
<g filter="url(#cm)">
<rect x="54" y="98" width="478" height="74" fill="url(#gA0)"/>
<rect x="54" y="98" width="478" height="74" fill="url(#gA1)" mask="url(#mf)"/>
<rect x="54" y="172" width="478" height="74" fill="url(#gA1)"/>
<rect x="54" y="172" width="478" height="74" fill="url(#gA2)" mask="url(#mf)"/>
<rect x="54" y="246" width="478" height="77" fill="url(#gA2)"/>
<rect x="54" y="246" width="478" height="77" fill="url(#gA3)" mask="url(#mf)"/>
<rect x="54" y="323" width="478" height="80" fill="url(#gA3)"/>
<rect x="54" y="323" width="478" height="80" fill="url(#gA4)" mask="url(#mf)"/>
<rect x="54" y="403" width="478" height="83" fill="url(#gA4)"/>
<rect x="54" y="403" width="478" height="83" fill="url(#gA5)" mask="url(#mf)"/>
<rect x="54" y="486" width="478" height="88" fill="url(#gA5)"/>
<rect x="54" y="486" width="478" height="88" fill="url(#gA6)" mask="url(#mf)"/>
<rect x="54" y="574" width="478" height="94" fill="url(#gA6)"/>
<rect x="54" y="574" width="478" height="94" fill="url(#gA7)" mask="url(#mf)"/>
<rect x="54" y="668" width="478" height="103" fill="url(#gA7)"/>
<rect x="54" y="668" width="478" height="103" fill="url(#gA8)" mask="url(#mf)"/>
</g>
<g filter="url(#cm)">
<rect x="630" y="98" width="476" height="74" fill="url(#gB0)"/>
<rect x="630" y="98" width="476" height="74" fill="url(#gB1)" mask="url(#mf)"/>
<rect x="630" y="172" width="476" height="74" fill="url(#gB1)"/>
<rect x="630" y="172" width="476" height="74" fill="url(#gB2)" mask="url(#mf)"/>
<rect x="630" y="246" width="476" height="77" fill="url(#gB2)"/>
<rect x="630" y="246" width="476" height="77" fill="url(#gB3)" mask="url(#mf)"/>
<rect x="630" y="323" width="476" height="80" fill="url(#gB3)"/>
<rect x="630" y="323" width="476" height="80" fill="url(#gB4)" mask="url(#mf)"/>
<rect x="630" y="403" width="476" height="83" fill="url(#gB4)"/>
<rect x="630" y="403" width="476" height="83" fill="url(#gB5)" mask="url(#mf)"/>
<rect x="630" y="486" width="476" height="88" fill="url(#gB5)"/>
<rect x="630" y="486" width="476" height="88" fill="url(#gB6)" mask="url(#mf)"/>
<rect x="630" y="574" width="476" height="94" fill="url(#gB6)"/>
<rect x="630" y="574" width="476" height="94" fill="url(#gB7)" mask="url(#mf)"/>
<rect x="630" y="668" width="476" height="103" fill="url(#gB7)"/>
<rect x="630" y="668" width="476" height="103" fill="url(#gB8)" mask="url(#mf)"/>
</g>
<g filter="url(#cm)">
<rect x="1190" y="98" width="477" height="74" fill="url(#gC0)"/>
<rect x="1190" y="98" width="477" height="74" fill="url(#gC1)" mask="url(#mf)"/>
<rect x="1190" y="172" width="477" height="74" fill="url(#gC1)"/>
<rect x="1190" y="172" width="477" height="74" fill="url(#gC2)" mask="url(#mf)"/>
<rect x="1190" y="246" width="477" height="77" fill="url(#gC2)"/>
<rect x="1190" y="246" width="477" height="77" fill="url(#gC3)" mask="url(#mf)"/>
<rect x="1190" y="323" width="477" height="80" fill="url(#gC3)"/>
<rect x="1190" y="323" width="477" height="80" fill="url(#gC4)" mask="url(#mf)"/>
<rect x="1190" y="403" width="477" height="83" fill="url(#gC4)"/>
<rect x="1190" y="403" width="477" height="83" fill="url(#gC5)" mask="url(#mf)"/>
<rect x="1190" y="486" width="477" height="88" fill="url(#gC5)"/>
<rect x="1190" y="486" width="477" height="88" fill="url(#gC6)" mask="url(#mf)"/>
<rect x="1190" y="574" width="477" height="94" fill="url(#gC6)"/>
<rect x="1190" y="574" width="477" height="94" fill="url(#gC7)" mask="url(#mf)"/>
<rect x="1190" y="668" width="477" height="103" fill="url(#gC7)"/>
<rect x="1190" y="668" width="477" height="103" fill="url(#gC8)" mask="url(#mf)"/>
</g>
<path d="M52 97.8L78.4 97.8M99.2 97.8L103.4 97.8M127 97.8L138.1 97.8M152 97.8L175.6 97.8M185.4 97.8L534.2 97.8M251.2 102.3L281.2 97.8L251.2 93.3M307 101.7L333 97.8L307 93.9M322.7 102L350.7 97.8L322.7 93.6M377.3 102L405.3 97.8L377.3 93.6M465.3 102.3L495.3 97.8L465.3 93.3M520 99.9L534 97.8L520 95.7M58 96.9L52 97.8L58 98.7M197 96.8L190 97.8L197 98.8M52 170.8L125.6 170.8M152 171.5L159 169.5M177 170.8L309 170.8M321.5 170.8L361.8 170.8M371.6 172L378.5 168.5M395.2 170.8L534.2 170.8M240 169.4L226 171.5L240 173.6M279 175.3L309 170.8L279 166.3M445.5 174.1L467.5 170.8L445.5 167.5M510 174.4L534 170.8L510 167.2M84 169.9L78 170.8L84 171.7M356 170.3L348 171.5L356 172.7M50.6 245.8L128.4 245.8M152 247L157.6 244M175.6 245.8L311.8 246.5M321.5 247L328.5 245M328.5 248.9L346.5 245.8M370.2 246.7L350.7 240.3M358.7 241.4L350.7 240.3L355.6 243.4M393.8 245.8L534.2 245.8M277.6 251.3L311.8 246.5L278 241.1M242 243.9L228 246L242 248.1M430 248.5L448 245.8L430 243.1M510 249.4L534 245.8L510 242.2M58 244.9L52 245.8L58 246.7M52 320.8L103.4 323.6M103.4 323.6L127 322.8M152 322.2L182.6 317.2M173.7 320.4L182.6 317.2L171.3 317.3M175.6 322.2L345 324.5M370.2 323L341 313M353 314.9L341 313L348.2 317.7M393.8 322.2L434.1 320.5M421.2 323.1L434.1 320.5L420.4 319.1M434.1 322.5L534.2 322.5M66.5 319.4L52 320.8L65.5 323.6M277.5 329.4L312 325L278.5 319.3M249 325.4L265 323L249 320.6M504 327L534 322.5L504 318M478 325.3L490 323.5L478 321.7M52 400.3L78.4 402.2M102 402.2L75.6 394.5M86.2 395.7L75.6 394.5L82.5 398.3M152 402.2L185.4 394.7M176.2 398.8L185.4 394.7L172.6 395.5M175.6 402.2L345 402.2M234 399L320 407M275 411L323 406M248.7 398L234 399L247.2 402.2M299.8 397L285 398L298.1 401.2M303.4 408.6L320 407L304.6 403.8M370.2 402.2L331.3 390.6M346.9 392.5L331.3 390.6L341.4 396.3M395.2 402.2L421.6 397.2M414.1 400.2L421.6 397.2L411.7 397.5M418.8 402.2L534.2 403.6M508 407.5L534 403.6L508 399.7M477 404.8L489 403L477 401.2M52 475.6L125.6 485.3M65 475.4L52 475.6L62.8 478.9M52 483L78.4 485.3M147.8 478.9L152 485.8M175.6 485.3L345 485.3M220 483L320 487M214 491L281 491M256 477.5L320 484M234.4 481.5L220 483L233.6 485.7M271 476.9L256 477.5L268.9 481M307.7 481.2L295 482L306.3 484.7M226 489.2L214 491L226 492.8M370.2 485.3L313.2 471.1M335.4 473L313.2 471.1L328.6 478.6M394.6 485.3L406.3 478.9M418.8 485.3L534.2 487.2M486.2 484.2L472 486L485.8 488.3M520 489.1L534 487L520 484.9M52 562.5L150.6 573.6M67 561.9L52 562.5L64.8 566.1M52 565.3L78.4 573.6M165.9 575L175.6 574.5M184 579.2L345 573.6M198 569.5L323 573.6M234 565.3L323 572M214.4 567.7L198 569.5L213.6 572.5M250.7 564L234 565.3L249.2 568.7M195.6 576.9L184 579.2L196.4 580.4M370.2 573.6L299.3 556.1M326.9 558.4L299.3 556.1L318.5 565.4M386.9 566.7L393.8 573.6M418.8 573.6L534.2 577.8M480.3 573.4L466 575L479.6 577.6M517.6 579.6L534 577.8L518.5 574.8M57.5 655.3L200.6 670.6M74.6 654.5L57.5 655.3L72.3 659.2M52 660.8L78.4 667.8M170 672L345 667.8M182.6 661L284 670.6M200.6 659.5L250.6 657.2M201.7 660L182.6 661L199.3 665.3M216.4 656.8L200.6 659.5L216.8 661.6M183.7 669.4L170 672L184.3 673.6M370.2 667.8L284 647.8M317.2 650.1L284 647.8L307.6 658.7M393.8 667.8L374.4 655.3M383.8 658.5L374.4 655.3L377.8 660.4M418.8 667.8L534.2 669.2M467 666.7L455 668.5L467 670.3M516 671.9L534 669.2L516 666.5M78.4 770.6L72.8 755.8M78.2 760.4L72.8 755.8L71.1 761M102 770.6L89.5 757.2M96.8 761L89.5 757.2L90.4 762.2M113.1 767L125.6 770.6M139.5 770.6L150.6 770.6M147.8 773.9L350.7 770.6M195 761.4L345 770.6M205 758.5L290 762M163.4 771L147.8 773.9L164.2 775.8M213.7 759.7L195 761.4L212.3 765M221.4 756.6L205 758.5L220.6 761.4M176.8 773L165 775L177.2 776.6M370.2 770.6L277.1 746.7M313.6 750L277.1 746.7L302.1 759.2M393.8 770.6L363.2 753.9M377.3 757.9L363.2 753.9L369.3 760.9M418.8 770.6L528.6 770.6M517.5 770.6L527.2 779.5M521.9 777L527.2 779.5L526.1 776.1M647.5 98.2L636.5 98.2M640.1 97.6L636.5 98.2L640.1 98.7M677.8 98.2L666.8 98.2M670.4 97.6L666.8 98.2L670.4 98.7M702.6 98.2L691.5 98.2M695.2 97.6L691.5 98.2L695.2 98.7M727.3 98.2L716.3 98.2M719.9 97.6L716.3 98.2L719.9 98.7M752.1 98.2L743.8 98.2M746.6 97.8L743.8 98.2L746.6 98.6M775.5 98.2L767.2 98.2M769.9 97.8L767.2 98.2L769.9 98.6M796.1 98.2L785.1 98.2M788.7 97.6L785.1 98.2L788.7 98.7M812.6 98.2L803 98.2M806.2 97.7L803 98.2L806.2 98.6M826.4 98.2L814 98.2M818.1 97.6L814 98.2L818.1 98.8M840.1 98.2L827.8 98.2M831.8 97.6L827.8 98.2L831.8 98.8M856.7 98.2L845.6 98.2M849.3 97.6L845.6 98.2L849.3 98.7M867.7 98.2L857.2 98.2M860.7 97.6L857.2 98.2L860.7 98.7M892.4 98.2L881.4 98.2M885.1 97.6L881.4 98.2L885.1 98.7M917.2 98.2L906.2 98.2M909.8 97.6L906.2 98.2L909.8 98.7M944.7 98.2L936.5 98.2M939.2 97.8L936.5 98.2L939.2 98.6M973.6 98.2L969.5 98.2M970.8 98L969.5 98.2L970.8 98.4M1002.5 98.2L994.2 98.2M997 97.8L994.2 98.2L997 98.6M1025.9 98.2L1017.6 98.2M1020.4 97.8L1017.6 98.2L1020.4 98.6M1042.4 98.2h0.8M1067.2 98.2h0.8M1091.9 98.2h0.8M653 170.6L635.1 168.7M641.5 168.5L635.1 168.7L640.6 170.2M677.8 170.6L664 169.8M668.8 169.4L664 169.8L668.4 170.8M702.6 170.6L687.4 176.1M691.1 173.6L687.4 176.1L693.7 175.1M725.9 170.6L710.8 170.6M715.8 169.9L710.8 170.6L715.8 171.4M750.7 170.6L739.7 174.8M742.3 172.9L739.7 174.8L744.3 173.9M774.1 170.6L763.1 171.5M766.5 170.6L763.1 171.5L766.9 171.7M798.9 170.6L778.2 167.3M785.8 167.4L778.2 167.3L784.2 169.4M823.6 172L797.5 167.1M807.3 167.4L797.5 167.1L804.9 170M848.4 170.6L823.6 172M831.5 170.3L823.6 172L832.1 172.8M870.4 170.6L845.6 168.4M854.3 167.9L845.6 168.4L853.3 170.4M895.2 170.6L873.2 169.3M880.8 168.6L873.2 169.3L880.1 170.8M919.9 170.6L900.7 173.4M906.4 171.5L900.7 173.4L907.7 173.4M944.7 170.6L933.7 159.6M940 162.7L933.7 159.6L934.7 163.8M970.9 170.6L969.5 166M971.1 167.4L969.5 166L968.8 167.6M999.7 169.3L994.2 171.5M995.5 170.5L994.2 171.5L996.6 171M1024.5 173.4L1019 170.6M1021.5 171.3L1019 170.6L1020.2 171.8M1093.3 174.8L1090.6 172M1092.1 172.8L1090.6 172L1090.8 173.1M653 246.3L631 242.7M639.1 242.8L631 242.7L637.4 245M677.8 246.3L659.9 244.1M666.3 244L659.9 244.1L665.3 245.7M702.6 246.3L684.7 255.4M688.4 251.5L684.7 255.4L692.8 253.3M725.9 246.3L710.8 246.3M715.8 245.6L710.8 246.3L715.8 247.1M750.7 246.3L742.5 250.4M744.2 248.7L742.5 250.4L746.2 249.5M774.1 246.3L763.1 247.1M766.5 246.3L763.1 247.1L766.9 247.4M798.9 246.3L778.2 240.8M786.4 241.6L778.2 240.8L783.7 243.6M823.6 246.3L794.7 235.9M806.8 237.9L794.7 235.9L801.8 240.7M848.4 246.3L825 247.1M832.5 245.7L825 247.1L832.9 248M870.4 246.3L841.5 242.2M852 242.1L841.5 242.2L850.1 245M895.2 246.3L873.2 242.2M881.4 242.5L873.2 242.2L879.4 244.6M919.9 246.3L900.7 246.3M907 245.4L900.7 246.3L907 247.3M944.7 246.3L935.1 221M944.3 228.9L935.1 221L932.2 229.8M970.9 246.3L970 238.1M972.3 240.7L970 238.1L968.3 240.8M994.2 246.3L998.4 241.4M998.2 243.2L998.4 241.4L995.8 242.8M1024.5 249.1L1017.6 245.8M1020.7 246.5L1017.6 245.8L1019.1 247.2M1043.8 246.3h0.8M1067.2 246.3L1065.8 243M1067 244L1065.8 243L1065.5 244.2M1097.4 250.4L1089.2 245.8M1093 246.9L1089.2 245.8L1090.8 247.7M653 323L631 317.5M639.6 318.2L631 317.5L637 320.4M677.8 323L659.9 317.5M667.1 318.5L659.9 317.5L664.5 320.2M702.6 323L687.4 336.8M689.1 331.5L687.4 336.8L695.7 333M725.9 323L716.3 324.4M719.2 323.5L716.3 324.4L719.8 324.4M750.7 323L746.6 327.1M747 325.6L746.6 327.1L748.9 326M774.1 323L770 330.5M769.6 327.8L770 330.5L773.1 328.2M798.9 323L785.1 318.3M790.8 319.2L785.1 318.3L788.5 320.6M823.6 323.6L798.9 312M809.8 314.6L798.9 312L804.3 317.1M848.4 323L818.1 327.1M827.1 324.3L818.1 327.1L829.1 327.3M870.4 323L844.3 317.5M854.2 318L844.3 317.5L851.6 320.6M895.2 323L873.2 315.3M882.3 316.8L873.2 315.3L878.6 318.9M919.9 323L903.4 322.5M909 321.8L903.4 322.5L908.8 323.5M944.7 323L931 288.6M943.8 299.3L931 288.6L927.2 300.7M968.1 323L967.3 311.5M970.3 315.2L967.3 311.5L964.8 315.3M993.7 323L992.9 316.7M994.7 318.7L992.9 316.7L991.6 318.8M1021.8 325.8L1017.6 323M1019.7 323.7L1017.6 323L1018.3 324.1M1045.2 325.8L1041 322.5M1043.2 323.4L1041 322.5L1041.6 323.8M1065.8 323L1069.9 314.8M1070.5 317.7L1069.9 314.8L1066.6 317.3M1098.8 325.8L1090.6 322.5M1094.1 323.2L1090.6 322.5L1092.5 324M653 402.3L633.8 395.9M641.6 397.1L633.8 395.9L638.6 399M677.8 402.3L662.7 395.9M669.2 397.3L662.7 395.9L666.1 398.8M702.6 402.3L690.2 418M690.5 412.2L690.2 418L698 413.4M725.9 402.3L717.7 403.4M720.1 402.6L717.7 403.4L720.7 403.4M750.7 402.3L747.1 411.1M746.2 408L747.1 411.1L750.4 408.3M774.1 402.3L770 418M767.6 412.6L770 418L775.1 413M798.9 402.3L786.5 402.8M790.4 402L786.5 402.8L790.7 403.3M823.6 402.3L800.2 394M809.9 395.6L800.2 394L806 397.9M848.4 402.3L819.5 410.5M827.1 406.4L819.5 410.5L831 409.2M870.4 402.3L842.9 394M854 395.4L842.9 394L850 398.1M895.2 402.3L871.8 390.4M882.3 393.2L871.8 390.4L876.7 395.5M919.9 402.3L902.1 394.6M909.8 396.2L902.1 394.6L906.1 398M944.7 402.3L928.2 359.3M944 372.7L928.2 359.3L923.3 374.3M969.5 402.3L964 384.9M970 390.4L964 384.9L961.6 390.9M993.7 402.3L992 394.6M994.4 397L992 394.6L990.7 397.2M1021.8 405.6L1017.6 402.8M1019.7 403.5L1017.6 402.8L1018.3 403.9M1045.2 405.6L1041 402.3M1043.2 403.2L1041 402.3L1041.6 403.6M1065.8 402.3L1074 393.2M1073.5 396.6L1074 393.2L1069.1 395.8M1098.8 405.6L1090.6 402.3M1094.1 403L1090.6 402.3L1092.5 403.8M653 485.4L632.4 477.1M641.2 478.9L632.4 477.1L637.2 480.9M677.8 485.4L661.3 479.9M668 480.9L661.3 479.9L665.4 482.5M702.6 485.4L686 503.8M687.1 496.9L686 503.8L695.9 498.6M725.9 485.4L710.8 491.7M714.3 488.9L710.8 491.7L717.3 490.4M750.7 485.4L738.9 501.9M738.8 495.9L738.9 501.9L746.7 497.1M774.1 485.4L763.6 508.2M761.6 500.2L763.6 508.2L772.6 501.2M798.9 485.4L782.4 487.3M787.3 485.9L782.4 487.3L788.3 487.5M823.6 485.4L797.5 478.5M807.8 479.5L797.5 478.5L804.5 482.1M848.4 485.4L816.8 497.8M824.2 492.1L816.8 497.8L830.2 495.3M870.4 485.4L838.8 477.1M851.2 478.3L838.8 477.1L847.2 481.4M895.2 485.4L867.7 468.9M880.7 473L867.7 468.9L872.8 475.7M919.9 485.4L900.7 475.2M909.5 477.6L900.7 475.2L904.6 479.5M944.7 485.4L928.2 438.6M944.9 453.2L928.2 438.6L922.4 454.9M969.5 485.4L961.2 466.1M968.6 472.1L961.2 466.1L959.3 472.9M992.9 484L988.7 479.9M991.1 481.1L988.7 479.9L989.1 481.5M1043.8 489.5L1041 485.4M1042.9 486.6L1041 485.4L1040.9 486.9M1065.8 485.4L1071.3 472.5M1072.6 477L1071.3 472.5L1066.4 476.5M1090.6 485.4L1102.9 496.4M1096.2 493.4L1102.9 496.4L1101.5 492.2M653 573.2L633.8 561.1M643 564.1L633.8 561.1L637.2 566M677.8 573.2L659.9 565.2M667.7 567L659.9 565.2L663.9 568.7M702.6 573.2L684.7 590M686.5 583.5L684.7 590L694.6 585.3M725.9 573.2L707.5 583.1M711.2 578.9L707.5 583.1L716 580.7M750.7 573.2L733.4 590M735.1 583.6L733.4 590L743.1 585.3M774.1 573.2L763.1 590M762.7 583.9L763.1 590L770.8 585M798.9 573.2L778.2 576.2M784.3 574.2L778.2 576.2L785.8 576.2M823.6 573.2L796.1 568M806.5 568.3L796.1 568L803.9 571M848.4 573.2L815.4 587.2M822.9 581L815.4 587.2L829.6 584.2M870.4 573.2L838.8 563.8M851.5 565.4L838.8 563.8L847 568.5M895.2 573.2L866.3 554.2M880.4 559L866.3 554.2L871.3 561.9M919.9 573.2L900.7 555.6M911.3 560.4L900.7 555.6L902.8 562.3M944.7 573.2L925.4 513.7M946.1 532.4L925.4 513.7L917.5 534.3M969.5 573.2L957.1 550.1M966.7 557.1L957.1 550.1L955.6 558.3M992.9 573.2L987.4 565.2M991.1 567.6L987.4 565.2L987.3 568.1M1067.2 573.2L1067.2 557M1071.1 562.3L1067.2 557L1063.3 562.3M1090.6 574.8L1097.4 585.8M1092.5 582.6L1097.4 585.8L1097.8 581.9M654.4 667.2L644.2 653.2M650.9 657.3L644.2 653.2L644.2 658.3M677.8 667.2L666.8 657.9M672.7 660.4L666.8 657.9L668.2 661.5M702.6 668.9L690.2 682.7M691 677.5L690.2 682.7L697.6 678.7M725.9 667.2L712.2 678.5M714 674.1L712.2 678.5L719.4 675.5M750.7 667.2L734.2 683.5M735.7 677.3L734.2 683.5L743.5 678.9M774.1 668.9L759 690.9M758.7 682.9L759 690.9L769.2 684.4M798.9 667.2L779.6 670.3M785.2 668.3L779.6 670.3L786.7 670.2M823.6 667.2L798.9 663.4M808 663.4L798.9 663.4L806.1 665.9M848.4 667.2L820.9 682.7M826.3 676.2L820.9 682.7L833.7 678.9M871.8 667.2L842.9 652.4M856 655.9L842.9 652.4L848.9 658.7M896.6 667.2L869 646.1M883.2 651.7L869 646.1L873 654.4M919.9 667.2L902.1 643.3M913.7 650.3L902.1 643.3L902.2 652.1M944.7 667.2L926.3 603.4M947.7 623.6L926.3 603.4L917 625.4M969.5 667.2L956.8 638.6M967.9 647.4L956.8 638.6L954.1 648.7M992.9 667.2L986 656M991 659.3L986 656L985.5 660M1017.6 667.2L1013.5 661.5M1016.3 663.2L1013.5 661.5L1013.5 663.6M1039.6 670.3L1042.4 667.5M1042.2 668.6L1042.4 667.5L1040.8 668.3M1065.8 667.2L1061.7 649.6M1067.3 655.2L1061.7 649.6L1058.8 655.6M1089.2 668.9L1089.2 684M1085.5 679L1089.2 684L1092.8 679M629.6 769.6L626.9 762.5M629.5 764.7L626.9 762.5L626.1 765M654.4 769.6L654.4 751.4M658.8 757.4L654.4 751.4L650 757.4M677.8 769.6L676.4 757M679.9 761.1L676.4 757L673.8 761.2M702.6 771.5L699.8 783.6M697.8 779.5L699.8 783.6L703.6 779.8M725.9 771.5L721.8 786.4M719.6 781.3L721.8 786.4L726.7 781.7M750.7 771.5L741.1 790.8M739.6 784L741.1 790.8L748.9 784.9M774.1 771.5L764.5 792.7M762.6 785.3L764.5 792.7L772.7 786.2M798.9 773.5L785.1 775.4M789.2 774.1L785.1 775.4L790.1 775.4M823.6 769.6L803 768M810.2 767.5L803 768L809.4 769.5M848.4 771.5L826.4 781.7M831.2 777.3L826.4 781.7L836.1 779.4M871.8 769.6L851.2 751.4M862.3 756.4L851.2 751.4L853.6 758.5M896.6 769.6L871.8 744.6M886 751.6L871.8 744.6L873.9 754.1M919.9 769.6L900.7 745.9M912.7 752.8L900.7 745.9L901.4 754.7M944.7 769.6L925.4 703.8M947.6 724.6L925.4 703.8L916 726.5M969.5 769.6L955.7 732.2M969.2 743.9L955.7 732.2L951.3 745.2M992.9 769.6L984.6 754.2M991 758.9L984.6 754.2L983.6 759.7M1017.6 769.6L1010.8 758.9M1015.6 762.1L1010.8 758.9L1010.4 762.8M1041 772.1L1036.9 773.5M1037.9 772.8L1036.9 773.5L1038.6 773.2M1065.8 769.6L1054.8 751.4M1062.8 756.9L1054.8 751.4L1054.1 758M1090.6 771.5L1078.2 788.6M1078.2 782.4L1078.2 788.6L1086.4 783.6M1213 98.2L1188.3 98.2M1196.4 96.9L1188.3 98.2L1196.4 99.4M1237.8 98.2L1213 98.2M1221.2 96.9L1213 98.2L1221.2 99.4M1262.6 98.2L1237.8 98.2M1246 96.9L1237.8 98.2L1246 99.4M1287.3 98.2L1262.6 98.2M1270.7 96.9L1262.6 98.2L1270.7 99.4M1310.7 98.2L1287.3 98.2M1295 97L1287.3 98.2L1295 99.3M1334.1 98.2L1310.7 98.2M1318.4 97L1310.7 98.2L1318.4 99.3M1358.9 98.2L1334.1 98.2M1342.3 96.9L1334.1 98.2L1342.3 99.4M1383.6 98.2L1358.9 98.2M1367 96.9L1358.9 98.2L1367 99.4M1408.4 98.2L1385 98.2M1392.7 97L1385 98.2L1392.7 99.3M1431.8 98.2L1408.4 98.2M1416.1 97L1408.4 98.2L1416.1 99.3M1455.2 98.2L1431.8 98.2M1439.5 97L1431.8 98.2L1439.5 99.3M1479.9 98.2L1456.6 98.2M1464.3 97L1456.6 98.2L1464.3 99.3M1504.7 98.2L1482.7 98.2M1490 97.1L1482.7 98.2L1490 99.2M1529.5 98.2L1518.5 98.2M1522.1 97.6L1518.5 98.2L1522.1 98.7M1554.2 98.2L1550.1 98.2M1551.5 98L1550.1 98.2L1551.5 98.4M1577.6 98.2L1566.6 98.2M1570.3 97.6L1566.6 98.2L1570.3 98.7M1605.2 98.2L1596.9 98.2M1599.6 97.8L1596.9 98.2L1599.6 98.6M1629.9 98.2L1624.4 98.2M1626.2 97.9L1624.4 98.2L1626.2 98.4M1661.6 98.2L1649.2 98.2M1653.3 97.6L1649.2 98.2L1653.3 98.8M1213 172.2L1188.3 174.9M1195.8 172.8L1188.3 174.9L1197.1 175.3M1237.8 172.2L1207.5 176.3M1216.5 173.5L1207.5 176.3L1218.5 176.4M1262.6 170.8L1237.8 170.8M1246 169.6L1237.8 170.8L1246 172M1287.3 170.8L1257.1 172.2M1266.7 170.2L1257.1 172.2L1267.4 173.2M1310.7 170.8L1287.3 170.8M1295 169.7L1287.3 170.8L1295 172M1334.1 170.8L1309.3 163.9M1319.2 165L1309.3 163.9L1315.9 167.4M1358.9 172.2L1328.6 166.7M1339.9 167L1328.6 166.7L1337.3 170M1383.6 172.2L1347.9 169.4M1360.3 168.6L1347.9 169.4L1359 172.1M1408.4 170.8L1385 168.1M1393.4 167.8L1385 168.1L1392.1 170.1M1431.8 170.8L1400.1 169.4M1410.9 168.3L1400.1 169.4L1410.3 171.4M1455.2 170.8L1422.2 168.6M1433.6 167.7L1422.2 168.6L1432.5 171M1479.9 171.4L1448.3 176.9M1457.4 173.5L1448.3 176.9L1460.1 176.6M1504.7 171.4L1482.7 157.6M1493.3 161.1L1482.7 157.6L1486.7 163.2M1529.5 171.4L1519.8 163.9M1524.8 165.9L1519.8 163.9L1521.2 166.9M1577.6 170.8L1574.9 174.9M1574.8 173.4L1574.9 174.9L1576.8 173.7M1602.4 171.4L1598.3 168.1M1600.4 168.9L1598.3 168.1L1598.8 169.4M1627.2 171.4L1632.7 166.7M1632 168.5L1632.7 166.7L1629.7 168M1661.6 171.4L1650.6 171.4M1654.2 170.8L1650.6 171.4L1654.2 171.9M1213.8 246.8L1187.9 246.3M1196.6 245.2L1187.9 246.3L1196.3 247.7M1252.6 245.1L1187.9 251.6M1207.7 246.3L1187.9 251.6L1210.8 252.6M1252.6 248.7L1207.3 256M1220.5 251.4L1207.3 256L1224 255.8M1269 246.6L1240 246.6M1249.6 245.2L1240 246.6L1249.6 248M1294 246.6L1262 246.6M1272.6 245L1262 246.6L1272.6 248.2M1318 246.6L1285 246.6M1295.9 245L1285 246.6L1295.9 248.2M1335.4 246.6L1300 246.6M1311.7 244.9L1300 246.6L1311.7 248.4M1334.1 246.4L1308 232.4M1320 235.7L1308 232.4L1313.2 238.3M1358.9 246.4L1328.6 238.7M1340.4 239.8L1328.6 238.7L1336.7 242.7M1383.6 246.4L1350.6 246.4M1361.5 244.8L1350.6 246.4L1361.5 248M1408.4 246.4L1385 240.6M1394.1 241.4L1385 240.6L1391.3 243.7M1431.8 246.4L1402.9 241.5M1413.6 241.7L1402.9 241.5L1411.2 244.5M1455.2 246.4L1427.7 240.6M1438.1 241.2L1427.7 240.6L1435.4 243.9M1481.3 246.4L1456.6 249.7M1463.9 247.4L1456.6 249.7L1465.5 249.9M1506.1 246.4L1491 218.6M1502.6 227L1491 218.6L1489.3 228.5M1529.5 246.4L1528.1 232.4M1531.9 236.9L1528.1 232.4L1525.2 237.1M1554.2 246.4L1557.5 242.6M1557.4 244L1557.5 242.6L1555.5 243.7M1577.6 248.9L1579 246.4M1579.2 247.3L1579 246.4L1578 247.2M1602.4 246.4L1596.9 238.7M1600.6 241L1596.9 238.7L1596.9 241.5M1625.8 246.4L1635.4 231M1635.9 236.6L1635.4 231L1628.5 235.6M1665.7 247.5L1650.6 246.4M1655.8 246L1650.6 246.4L1655.3 247.5M1213.8 323.5L1187.9 322.7M1196.6 321.7L1187.9 322.7L1196.3 324.3M1238.2 322.8L1187.9 330.8M1202.6 325.7L1187.9 330.8L1206.4 330.7M1252.6 325.7L1210.9 339.4M1221.4 332.8L1210.9 339.4L1228 336.9M1285.7 322.8L1242.6 322.8M1256.8 320.7L1242.6 322.8L1256.8 324.9M1311.6 322.8L1275.6 319.2M1288.3 318.6L1275.6 319.2L1286.6 322.2M1335.4 322.8L1298.7 328.6M1309.4 324.9L1298.7 328.6L1312.2 328.5M1345 315.6L1318.1 306.3M1329.2 308L1318.1 306.3L1324.8 310.7M1358.9 322.9L1339.6 313.6M1348.2 315.7L1339.6 313.6L1343.7 317.6M1383.6 322.9L1365.7 324M1371.4 322.8L1365.7 324L1371.9 324.5M1408.4 322.9L1389.1 323.5M1395.4 322.3L1389.1 323.5L1395.6 324.2M1431.8 322.9L1402.9 316.3M1414 317.1L1402.9 316.3L1410.8 319.9M1456.6 322.9L1435.9 309.7M1445.9 313L1435.9 309.7L1439.6 315.1M1481.3 322.9L1463.4 327.3M1468.3 325L1463.4 327.3L1470.4 326.8M1506.1 322.9L1488.2 284.7M1503.3 296.4L1488.2 284.7L1484.9 298.2M1529.5 322.9L1526.2 302M1532.3 308.7L1526.2 302L1522.2 309.1M1554.2 322.9L1550.1 318M1552.7 319.4L1550.1 318L1550.3 319.8M1577.6 322.9L1574.1 337M1571.9 332.1L1574.1 337L1578.6 332.5M1603.8 322.9L1603.8 315.8M1605.5 318.1L1603.8 315.8L1602.1 318.1M1625.8 322.9L1645.1 289.3M1646.8 301.4L1645.1 289.3L1630.6 299.5M1664.3 325.9L1650.6 322.9M1655.8 323.2L1650.6 322.9L1654.4 324.6M1213 402.4L1188.3 400.7M1196.8 400L1188.3 400.7L1196 402.5M1237.8 402.4L1191 409.5M1204.7 404.9L1191 409.5L1208.2 409.5M1262.6 403.5L1218.5 420M1229.1 412.4L1218.5 420L1237 416.7M1287.3 402.4L1251.5 404M1263 401.7L1251.5 404L1263.7 405.3M1310.7 402.4L1279.1 404M1289.1 401.9L1279.1 404L1289.9 405M1334.1 402.4L1305.2 415M1311.7 409.4L1305.2 415L1317.8 412.3M1358.9 402.4L1325.8 384.2M1341.1 388.6L1325.8 384.2L1332.4 391.8M1383.6 401.3L1350.6 392.5M1363.6 393.7L1350.6 392.5L1359.4 397M1408.4 402.4L1372.6 401.3M1384.7 399.9L1372.6 401.3L1384.2 403.4M1431.8 402.4L1405.6 388.3M1417.6 391.7L1405.6 388.3L1410.9 394.3M1456.6 402.4L1430.4 386.4M1442.9 390.4L1430.4 386.4L1435.2 393M1481.3 402.4L1460.7 402.4M1467.5 401.4L1460.7 402.4L1467.5 403.4M1506.1 402.4L1485.4 358.6M1502.8 372L1485.4 358.6L1481.8 374.1M1529.5 402.4L1518.5 373.8M1529 382.7L1518.5 373.8L1515.2 383.7M1552.9 402.4L1547.4 402.4M1549.2 402.1L1547.4 402.4L1549.2 402.6M1576.3 402.4L1574.1 419.2M1570.8 413.5L1574.1 419.2L1578.8 413.7M1602.4 402.4L1602.4 391.6M1605 395.2L1602.4 391.6L1599.8 395.2M1625.8 402.4L1651.9 365.5M1652.2 379L1651.9 365.5L1634.4 376.4M1664.3 408.2L1650.6 402.7M1656.4 403.8L1650.6 402.7L1653.8 405.1M1213 485.2L1188.3 481.1M1197.4 481.2L1188.3 481.1L1195.4 483.7M1237.8 486L1191 489.3M1205.7 485.9L1191 489.3L1207.2 490.6M1262.6 485.2L1235 497.6M1241.1 492.1L1235 497.6L1247.1 494.9M1287.3 485.2L1248.8 489.3M1260.5 486.1L1248.8 489.3L1262.5 489.9M1310.7 486L1280.4 499M1287.3 493.2L1280.4 499L1293.5 496.2M1334.1 486L1305.2 499M1311.6 493.3L1305.2 499L1317.8 496.1M1358.9 485.2L1324.5 464M1340.9 469.3L1324.5 464L1330.7 472.7M1383.6 486L1350.6 468.7M1365.7 472.8L1350.6 468.7L1357.3 476M1408.4 485.2L1375.4 478.3M1387.9 479L1375.4 478.3L1384.6 482.2M1431.8 485.2L1397.4 465.4M1413.5 470.2L1397.4 465.4L1404 473.6M1456.6 485.2L1424.9 467.9M1439.5 472L1424.9 467.9L1431.2 475.2M1481.3 485.2L1462.1 479.7M1469.7 480.6L1462.1 479.7L1467.1 482.5M1506.1 485.2L1484.1 434.8M1503.4 450.4L1484.1 434.8L1479.2 452.6M1529.5 485.2L1517.9 456.3M1528.7 465.3L1517.9 456.3L1514.8 466.4M1552.9 485.2L1548.7 487.1M1549.6 486.3L1548.7 487.1L1550.6 486.7M1576.3 485.2L1576.3 499M1573 494.4L1576.3 499L1579.6 494.4M1605.2 485.2L1605.2 475.6M1607.5 478.8L1605.2 475.6L1602.8 478.8M1625.8 485.2L1650.6 444.8M1652.1 459.3L1650.6 444.8L1632.7 456.9M1667.1 493.5L1650.6 485.2M1658 487.1L1650.6 485.2L1654 488.7M1213 573.2L1188.3 563M1198.9 565.2L1188.3 563L1194 567.6M1237.8 573.2L1196.5 567.1M1211.6 567.1L1196.5 567.1L1208.7 571.2M1262.6 574L1218.5 590M1229.2 582.5L1218.5 590L1236.9 586.9M1287.3 573.2L1251.5 576.8M1262.5 573.8L1251.5 576.8L1264.2 577.4M1310.7 573.2L1280.4 585M1287.6 579.6L1280.4 585L1293.3 582.6M1334.1 573.2L1309.3 586.4M1314.3 580.8L1309.3 586.4L1320.7 583.3M1358.9 573.2L1334.1 548.7M1348.2 555.6L1334.1 548.7L1336.4 558M1383.6 573.2L1356.1 549.3M1370.9 555.8L1356.1 549.3L1359.4 558.5M1408.4 573.2L1376.8 568.5M1388.3 568.5L1376.8 568.5L1386.1 571.6M1431.8 573.2L1400.1 547.9M1416.7 554.7L1400.1 547.9L1404.5 557.8M1456.6 573.2L1427.7 550.6M1442.6 556.7L1427.7 550.6L1431.8 559.5M1481.3 573.2L1462.1 557.5M1472.2 561.7L1462.1 557.5L1464.6 563.6M1506.1 573.2L1482.7 524.5M1502.1 539.4L1482.7 524.5L1478.7 541.7M1529.5 573.2L1518.5 538.3M1530.5 549.2L1518.5 538.3L1513.7 550.3M1552.9 574.6L1548.7 577.3M1549.4 576.2L1548.7 577.3L1550.8 576.6M1576.3 573.2L1576.8 586.4M1573.5 582.1L1576.8 586.4L1579.8 582M1602.4 573.2L1607.9 562.5M1608.7 566.3L1607.9 562.5L1603.5 565.7M1625.8 573.2L1649.2 531.4M1651.5 546.3L1649.2 531.4L1631.4 544M1668.4 586.4L1650.6 573.2M1659.6 576.7L1650.6 573.2L1653.3 578.4M1213 667.3L1186.9 638.7M1202.4 646.8L1186.9 638.7L1188.6 649.4M1237.8 667.3L1206.1 653.8M1219.8 656.7L1206.1 653.8L1213.3 659.8M1262.6 669L1235 680M1241.5 675L1235 680L1246.8 677.7M1287.3 667.3L1265.3 672.5M1271.3 669.7L1265.3 672.5L1273.8 671.9M1310.7 667.3L1294.2 677.2M1297.3 673.1L1294.2 677.2L1302 674.8M1334.1 669L1321.7 673.6M1324.7 671.5L1321.7 673.6L1326.9 672.7M1358.9 667.3L1345.1 639.5M1356.3 648L1345.1 639.5L1343 649.4M1383.6 667.3L1365.7 645M1377 651.5L1365.7 645L1366.3 653.3M1408.4 667.3L1385 664.3M1393.5 664.1L1385 664.3L1392 666.4M1431.8 667.3L1407 638.7M1422.1 646.9L1407 638.7L1408.3 649.4M1456.6 667.3L1430.4 637.9M1446.1 646.3L1430.4 637.9L1432 648.9M1481.3 667.3L1462.1 641.4M1474.6 649L1462.1 641.4L1462.2 650.9M1506.1 667.3L1484.1 602.1M1507 622.5L1484.1 602.1L1475.7 624.7M1529.5 667.3L1519.8 624.1M1533.4 637.9L1519.8 624.1L1512.6 638.8M1552.9 669L1550.1 671.7M1550.4 670.7L1550.1 671.7L1551.7 670.9M1577.6 667.3L1577.6 676.4M1575.5 673.4L1577.6 676.4L1579.8 673.4M1602.4 667.3L1609.3 658M1609.3 661.4L1609.3 658L1604.8 660.7M1625.8 667.3L1645.1 626.3M1648.5 640.8L1645.1 626.3L1628.8 638.9M1650.6 669L1664.3 680M1657.1 677L1664.3 680L1662.4 675.7M1189.6 769.5L1186.9 751.9M1192 757.6L1186.9 751.9L1183.6 757.9M1214.4 769.5L1207.5 735.4M1218 746.3L1207.5 735.4L1201.6 747M1237.8 769.5L1225.4 754.7M1233.1 759L1225.4 754.7L1225.9 760.2M1262.6 771.2L1254.3 781.4M1254.6 777.6L1254.3 781.4L1259.5 778.4M1285.9 771.2L1284.6 783M1282.2 779L1284.6 783L1287.9 779.2M1311.5 771.2L1311.5 784.1M1308.4 779.8L1311.5 784.1L1314.6 779.8M1360.2 769.5L1358.3 743.7M1365.2 752.1L1358.3 743.7L1352.7 752.3M1383.6 769.5L1375.4 752.7M1382.1 757.9L1375.4 752.7L1374.1 758.7M1408.4 769.5L1393.3 767.9M1398.7 767.7L1393.3 767.9L1397.9 769.2M1431.8 769.5L1415.3 739.5M1427.9 748.6L1415.3 739.5L1413.5 750.2M1456.6 769.5L1434.5 734M1450.3 744.7L1434.5 734L1433.3 746.8M1481.3 769.5L1463.4 742.3M1475.9 750.4L1463.4 742.3L1462.8 752.2M1506.1 769.5L1488.2 703.2M1510 724.2L1488.2 703.2L1478.2 726M1529.5 769.5L1521.2 713.4M1537.4 731.5L1521.2 713.4L1510.5 732.3M1602.4 769.5L1607.9 762.9M1607.7 765.4L1607.9 762.9L1604.5 764.8M1625.8 769.5L1639 731.3M1643.8 744.6L1639 731.3L1625.5 743.2M1650.6 771.2L1657.4 791.8M1650.2 785.3L1657.4 791.8L1660.1 784.7" stroke="#111" stroke-width="1.25" fill="none" stroke-linecap="round" stroke-linejoin="round"/>
<rect x="51.4" y="62" width="483.7" height="730" stroke="#2a2a2a" stroke-width="1.6" fill="none"/>
<g font-size="24" text-anchor="end">
<text x="41.2" y="71.5">0</text>
<text x="41.2" y="144.5">10</text>
<text x="41.2" y="217.5">20</text>
<text x="41.2" y="290.5">30</text>
<text x="41.2" y="363.5">40</text>
<text x="41.2" y="436.5">50</text>
<text x="41.2" y="509.5">60</text>
<text x="41.2" y="582.5">70</text>
<text x="41.2" y="655.5">80</text>
<text x="41.2" y="728.5">90</text>
<text x="41.2" y="801.5">100</text>
</g>
<text x="49.4" y="832.8" font-size="24" text-anchor="middle">80<tspan font-size="20" dy="-10.3">o</tspan><tspan dy="10.3">E</tspan></text>
<text x="130" y="832.8" font-size="24" text-anchor="middle">85<tspan font-size="20" dy="-10.3">o</tspan><tspan dy="10.3">E</tspan></text>
<text x="210.6" y="832.8" font-size="24" text-anchor="middle">90<tspan font-size="20" dy="-10.3">o</tspan><tspan dy="10.3">E</tspan></text>
<text x="291.2" y="832.8" font-size="24" text-anchor="middle">95<tspan font-size="20" dy="-10.3">o</tspan><tspan dy="10.3">E</tspan></text>
<text x="373.4" y="832.8" font-size="24" text-anchor="middle">100<tspan font-size="20" dy="-10.3">o</tspan><tspan dy="10.3">E</tspan></text>
<text x="454" y="832.8" font-size="24" text-anchor="middle">105<tspan font-size="20" dy="-10.3">o</tspan><tspan dy="10.3">E</tspan></text>
<text x="534.6" y="832.8" font-size="24" text-anchor="middle">110<tspan font-size="20" dy="-10.3">o</tspan><tspan dy="10.3">E</tspan></text>
<rect x="626.5" y="62" width="482.9" height="730" stroke="#2a2a2a" stroke-width="1.6" fill="none"/>
<g font-size="24" text-anchor="end">
<text x="616.3" y="71.5">0</text>
<text x="616.3" y="144.5">10</text>
<text x="616.3" y="217.5">20</text>
<text x="616.3" y="290.5">30</text>
<text x="616.3" y="363.5">40</text>
<text x="616.3" y="436.5">50</text>
<text x="616.3" y="509.5">60</text>
<text x="616.3" y="582.5">70</text>
<text x="616.3" y="655.5">80</text>
<text x="616.3" y="728.5">90</text>
<text x="616.3" y="801.5">100</text>
</g>
<text x="624.5" y="832.8" font-size="24" text-anchor="middle">80<tspan font-size="20" dy="-10.3">o</tspan><tspan dy="10.3">E</tspan></text>
<text x="705" y="832.8" font-size="24" text-anchor="middle">85<tspan font-size="20" dy="-10.3">o</tspan><tspan dy="10.3">E</tspan></text>
<text x="785.5" y="832.8" font-size="24" text-anchor="middle">90<tspan font-size="20" dy="-10.3">o</tspan><tspan dy="10.3">E</tspan></text>
<text x="866" y="832.8" font-size="24" text-anchor="middle">95<tspan font-size="20" dy="-10.3">o</tspan><tspan dy="10.3">E</tspan></text>
<text x="947.9" y="832.8" font-size="24" text-anchor="middle">100<tspan font-size="20" dy="-10.3">o</tspan><tspan dy="10.3">E</tspan></text>
<text x="1028.4" y="832.8" font-size="24" text-anchor="middle">105<tspan font-size="20" dy="-10.3">o</tspan><tspan dy="10.3">E</tspan></text>
<text x="1108.9" y="832.8" font-size="24" text-anchor="middle">110<tspan font-size="20" dy="-10.3">o</tspan><tspan dy="10.3">E</tspan></text>
<rect x="1187.1" y="62" width="483" height="730" stroke="#2a2a2a" stroke-width="1.6" fill="none"/>
<g font-size="24" text-anchor="end">
<text x="1176.9" y="71.5">0</text>
<text x="1176.9" y="144.5">10</text>
<text x="1176.9" y="217.5">20</text>
<text x="1176.9" y="290.5">30</text>
<text x="1176.9" y="363.5">40</text>
<text x="1176.9" y="436.5">50</text>
<text x="1176.9" y="509.5">60</text>
<text x="1176.9" y="582.5">70</text>
<text x="1176.9" y="655.5">80</text>
<text x="1176.9" y="728.5">90</text>
<text x="1176.9" y="801.5">100</text>
</g>
<text x="1185.1" y="832.8" font-size="24" text-anchor="middle">80<tspan font-size="20" dy="-10.3">o</tspan><tspan dy="10.3">E</tspan></text>
<text x="1265.6" y="832.8" font-size="24" text-anchor="middle">85<tspan font-size="20" dy="-10.3">o</tspan><tspan dy="10.3">E</tspan></text>
<text x="1346.1" y="832.8" font-size="24" text-anchor="middle">90<tspan font-size="20" dy="-10.3">o</tspan><tspan dy="10.3">E</tspan></text>
<text x="1426.6" y="832.8" font-size="24" text-anchor="middle">95<tspan font-size="20" dy="-10.3">o</tspan><tspan dy="10.3">E</tspan></text>
<text x="1508.6" y="832.8" font-size="24" text-anchor="middle">100<tspan font-size="20" dy="-10.3">o</tspan><tspan dy="10.3">E</tspan></text>
<text x="1589.1" y="832.8" font-size="24" text-anchor="middle">105<tspan font-size="20" dy="-10.3">o</tspan><tspan dy="10.3">E</tspan></text>
<text x="1669.6" y="832.8" font-size="24" text-anchor="middle">110<tspan font-size="20" dy="-10.3">o</tspan><tspan dy="10.3">E</tspan></text>
<rect x="1133.3" y="805" width="24" height="29" fill="#fff"/>
<g font-size="30" font-weight="bold">
<text x="0" y="24">A</text><text x="576" y="24.4">B</text><text x="1134.5" y="24.4">C</text>
</g>
<rect x="1722" y="62.00" width="30.5" height="12.01" fill="rgb(236,30,36)"/>
<rect x="1722" y="73.41" width="30.5" height="12.01" fill="rgb(237,42,36)"/>
<rect x="1722" y="84.81" width="30.5" height="12.01" fill="rgb(237,55,36)"/>
<rect x="1722" y="96.22" width="30.5" height="12.01" fill="rgb(238,70,36)"/>
<rect x="1722" y="107.62" width="30.5" height="12.01" fill="rgb(239,84,36)"/>
<rect x="1722" y="119.03" width="30.5" height="12.01" fill="rgb(240,98,35)"/>
<rect x="1722" y="130.44" width="30.5" height="12.01" fill="rgb(242,110,34)"/>
<rect x="1722" y="141.84" width="30.5" height="12.01" fill="rgb(243,122,33)"/>
<rect x="1722" y="153.25" width="30.5" height="12.01" fill="rgb(245,133,31)"/>
<rect x="1722" y="164.66" width="30.5" height="12.01" fill="rgb(247,144,30)"/>
<rect x="1722" y="176.06" width="30.5" height="12.01" fill="rgb(249,157,28)"/>
<rect x="1722" y="187.47" width="30.5" height="12.01" fill="rgb(251,173,22)"/>
<rect x="1722" y="198.88" width="30.5" height="12.01" fill="rgb(253,192,15)"/>
<rect x="1722" y="210.28" width="30.5" height="12.01" fill="rgb(253,207,10)"/>
<rect x="1722" y="221.69" width="30.5" height="12.01" fill="rgb(245,215,18)"/>
<rect x="1722" y="233.09" width="30.5" height="12.01" fill="rgb(242,227,24)"/>
<rect x="1722" y="244.50" width="30.5" height="12.01" fill="rgb(243,230,26)"/>
<rect x="1722" y="255.91" width="30.5" height="12.01" fill="rgb(243,231,30)"/>
<rect x="1722" y="267.31" width="30.5" height="12.01" fill="rgb(242,230,36)"/>
<rect x="1722" y="278.72" width="30.5" height="12.01" fill="rgb(242,230,47)"/>
<rect x="1722" y="290.12" width="30.5" height="12.01" fill="rgb(242,230,62)"/>
<rect x="1722" y="301.53" width="30.5" height="12.01" fill="rgb(242,231,80)"/>
<rect x="1722" y="312.94" width="30.5" height="12.01" fill="rgb(243,233,100)"/>
<rect x="1722" y="324.34" width="30.5" height="12.01" fill="rgb(244,235,118)"/>
<rect x="1722" y="335.75" width="30.5" height="12.01" fill="rgb(246,238,140)"/>
<rect x="1722" y="347.16" width="30.5" height="12.01" fill="rgb(247,241,160)"/>
<rect x="1722" y="358.56" width="30.5" height="12.01" fill="rgb(249,244,179)"/>
<rect x="1722" y="369.97" width="30.5" height="12.01" fill="rgb(251,247,197)"/>
<rect x="1722" y="381.38" width="30.5" height="12.01" fill="rgb(253,250,214)"/>
<rect x="1722" y="392.78" width="30.5" height="12.01" fill="rgb(254,252,234)"/>
<rect x="1722" y="404.19" width="30.5" height="12.01" fill="rgb(255,255,255)"/>
<rect x="1722" y="415.59" width="30.5" height="12.01" fill="rgb(255,255,255)"/>
<rect x="1722" y="427.00" width="30.5" height="12.01" fill="rgb(255,255,255)"/>
<rect x="1722" y="438.41" width="30.5" height="12.01" fill="rgb(255,255,255)"/>
<rect x="1722" y="449.81" width="30.5" height="12.01" fill="rgb(234,246,250)"/>
<rect x="1722" y="461.22" width="30.5" height="12.01" fill="rgb(216,239,245)"/>
<rect x="1722" y="472.62" width="30.5" height="12.01" fill="rgb(198,232,240)"/>
<rect x="1722" y="484.03" width="30.5" height="12.01" fill="rgb(181,225,235)"/>
<rect x="1722" y="495.44" width="30.5" height="12.01" fill="rgb(168,220,232)"/>
<rect x="1722" y="506.84" width="30.5" height="12.01" fill="rgb(150,214,228)"/>
<rect x="1722" y="518.25" width="30.5" height="12.01" fill="rgb(138,210,226)"/>
<rect x="1722" y="529.66" width="30.5" height="12.01" fill="rgb(127,207,224)"/>
<rect x="1722" y="541.06" width="30.5" height="12.01" fill="rgb(119,203,221)"/>
<rect x="1722" y="552.47" width="30.5" height="12.01" fill="rgb(115,201,220)"/>
<rect x="1722" y="563.88" width="30.5" height="12.01" fill="rgb(112,200,220)"/>
<rect x="1722" y="575.28" width="30.5" height="12.01" fill="rgb(108,198,219)"/>
<rect x="1722" y="586.69" width="30.5" height="12.01" fill="rgb(105,197,218)"/>
<rect x="1722" y="598.09" width="30.5" height="12.01" fill="rgb(92,193,220)"/>
<rect x="1722" y="609.50" width="30.5" height="12.01" fill="rgb(66,188,230)"/>
<rect x="1722" y="620.91" width="30.5" height="12.01" fill="rgb(52,185,234)"/>
<rect x="1722" y="632.31" width="30.5" height="12.01" fill="rgb(51,177,230)"/>
<rect x="1722" y="643.72" width="30.5" height="12.01" fill="rgb(60,162,218)"/>
<rect x="1722" y="655.12" width="30.5" height="12.01" fill="rgb(62,147,207)"/>
<rect x="1722" y="666.53" width="30.5" height="12.01" fill="rgb(62,134,198)"/>
<rect x="1722" y="677.94" width="30.5" height="12.01" fill="rgb(61,124,190)"/>
<rect x="1722" y="689.34" width="30.5" height="12.01" fill="rgb(61,116,184)"/>
<rect x="1722" y="700.75" width="30.5" height="12.01" fill="rgb(60,109,179)"/>
<rect x="1722" y="712.16" width="30.5" height="12.01" fill="rgb(60,102,174)"/>
<rect x="1722" y="723.56" width="30.5" height="12.01" fill="rgb(59,96,170)"/>
<rect x="1722" y="734.97" width="30.5" height="12.01" fill="rgb(59,91,167)"/>
<rect x="1722" y="746.38" width="30.5" height="12.01" fill="rgb(58,87,165)"/>
<rect x="1722" y="757.78" width="30.5" height="12.01" fill="rgb(58,84,163)"/>
<rect x="1722" y="769.19" width="30.5" height="12.01" fill="rgb(57,81,161)"/>
<rect x="1722" y="780.59" width="30.5" height="12.01" fill="rgb(57,79,160)"/>
<rect x="1722" y="62" width="30.5" height="730" fill="none" stroke="#1a1a1a" stroke-width="1.4"/>
<text x="1763" y="70.8" font-size="22">1.5</text>
<text x="1763" y="192.5" font-size="22">1</text>
<text x="1763" y="314.1" font-size="22">0.5</text>
<text x="1763" y="435.8" font-size="22">0</text>
<text x="1763" y="557.5" font-size="22">-0.5</text>
<text x="1763" y="679.1" font-size="22">-1</text>
<text x="1763" y="800.8" font-size="22">-1.5</text>
<path d="M1752.5 183.7h-6M1752.5 305.3h-6M1752.5 427h-6M1752.5 548.7h-6M1752.5 670.3h-6" stroke="#1a1a1a" stroke-width="1.4"/>
</svg></body></html>
